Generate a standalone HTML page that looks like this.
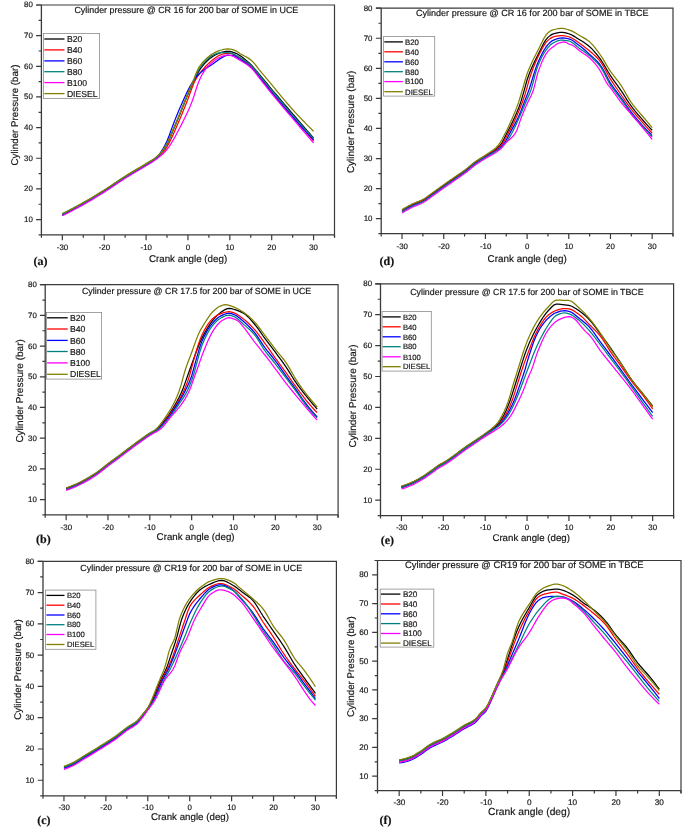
<!DOCTYPE html>
<html><head><meta charset="utf-8"><title>Cylinder pressure</title>
<style>
html,body{margin:0;padding:0;background:#fff;}
body{width:685px;height:835px;overflow:hidden;font-family:"Liberation Sans",sans-serif;}
svg{display:block;will-change:transform;}
svg text{font-family:"Liberation Sans",sans-serif;fill:#161616;stroke:#161616;stroke-width:0.18px;text-rendering:geometricPrecision;}
svg text.pl{font-family:"Liberation Serif",serif;font-weight:bold;fill:#111;}
</style></head><body>
<svg width="685" height="835" viewBox="0 0 685 835">
<rect width="685" height="835" fill="#fff"/>
<g id="pa">
<path d="M62.34 214.06 L64.43 213.02 L66.52 211.97 L68.62 210.9 L70.71 209.82 L72.8 208.72 L74.9 207.61 L76.99 206.48 L79.08 205.34 L81.18 204.19 L83.27 203.02 L85.37 201.84 L87.46 200.63 L89.55 199.41 L91.65 198.17 L93.74 196.91 L95.83 195.64 L97.93 194.36 L100.02 193.07 L102.11 191.76 L104.21 190.45 L106.3 189.12 L108.39 187.76 L110.49 186.37 L112.58 184.97 L114.68 183.56 L116.77 182.15 L118.86 180.74 L120.96 179.36 L123.05 177.99 L125.14 176.66 L127.24 175.36 L129.33 174.08 L131.42 172.83 L133.52 171.59 L135.61 170.35 L137.7 169.12 L139.8 167.89 L141.89 166.64 L143.99 165.38 L146.08 164.09 L148.17 162.83 L150.27 161.61 L152.36 160.33 L154.45 158.91 L156.55 157.28 L158.64 155.37 L160.73 153.17 L162.83 150.62 L164.92 147.53 L167.01 143.9 L169.11 139.8 L171.2 134.8 L173.3 129.54 L175.39 124.64 L177.48 119.82 L179.58 114.84 L181.67 109.6 L183.76 104.27 L185.86 99.12 L187.95 94.06 L190.04 89.09 L192.14 84.3 L194.23 79.79 L196.32 75.57 L198.42 71.82 L200.51 68.63 L202.61 65.81 L204.7 63.41 L206.79 61.26 L208.89 59.32 L210.98 57.62 L213.07 56.19 L215.17 54.98 L217.26 53.92 L219.35 53.08 L221.45 52.46 L223.54 51.88 L225.63 51.46 L227.73 51.29 L229.82 51.47 L231.92 51.93 L234.01 52.55 L236.1 53.32 L238.2 54.5 L240.29 55.85 L242.38 57.3 L244.48 58.9 L246.57 60.64 L248.66 62.5 L250.76 64.47 L252.85 66.64 L254.94 69.04 L257.04 71.59 L259.13 74.19 L261.23 76.73 L263.32 79.23 L265.41 81.75 L267.51 84.27 L269.6 86.8 L271.69 89.3 L273.79 91.78 L275.88 94.25 L277.97 96.71 L280.07 99.17 L282.16 101.62 L284.25 104.06 L286.35 106.51 L288.44 108.95 L290.54 111.38 L292.63 113.82 L294.72 116.25 L296.82 118.69 L298.91 121.12 L301 123.54 L303.1 125.97 L305.19 128.39 L307.28 130.8 L309.38 133.22 L311.47 135.63 L313.56 138.04" fill="none" stroke="#000000" stroke-width="1.25" stroke-linejoin="round" stroke-linecap="butt"/>
<path d="M62.34 214.67 L64.43 213.63 L66.52 212.58 L68.62 211.52 L70.71 210.43 L72.8 209.34 L74.9 208.22 L76.99 207.1 L79.08 205.96 L81.18 204.8 L83.27 203.63 L85.37 202.45 L87.46 201.24 L89.55 200.02 L91.65 198.78 L93.74 197.52 L95.83 196.26 L97.93 194.97 L100.02 193.68 L102.11 192.38 L104.21 191.07 L106.3 189.73 L108.39 188.37 L110.49 186.98 L112.58 185.58 L114.68 184.17 L116.77 182.76 L118.86 181.36 L120.96 179.97 L123.05 178.6 L125.14 177.27 L127.24 175.97 L129.33 174.7 L131.42 173.44 L133.52 172.2 L135.61 170.97 L137.7 169.73 L139.8 168.5 L141.89 167.25 L143.99 165.99 L146.08 164.7 L148.17 163.43 L150.27 162.17 L152.36 160.87 L154.45 159.47 L156.55 157.95 L158.64 156.36 L160.73 154.62 L162.83 152.58 L164.92 150.07 L167.01 146.72 L169.11 142.86 L171.2 138.76 L173.3 134.19 L175.39 129.41 L177.48 124.61 L179.58 119.68 L181.67 114.64 L183.76 109.48 L185.86 104.23 L187.95 98.94 L190.04 93.22 L192.14 87.46 L194.23 82.31 L196.32 78.35 L198.42 75.14 L200.51 72.37 L202.61 69.86 L204.7 67.48 L206.79 65.25 L208.89 63.17 L210.98 61.27 L213.07 59.56 L215.17 57.96 L217.26 56.48 L219.35 55.31 L221.45 54.52 L223.54 53.83 L225.63 53.32 L227.73 53.13 L229.82 53.32 L231.92 53.74 L234.01 54.47 L236.1 55.62 L238.2 56.98 L240.29 58.34 L242.38 59.62 L244.48 60.95 L246.57 62.37 L248.66 63.94 L250.76 65.69 L252.85 67.81 L254.94 70.32 L257.04 73.06 L259.13 75.86 L261.23 78.57 L263.32 81.2 L265.41 83.85 L267.51 86.51 L269.6 89.15 L271.69 91.75 L273.79 94.3 L275.88 96.83 L277.97 99.34 L280.07 101.83 L282.16 104.31 L284.25 106.77 L286.35 109.23 L288.44 111.68 L290.54 114.13 L292.63 116.58 L294.72 119.03 L296.82 121.47 L298.91 123.91 L301 126.34 L303.1 128.76 L305.19 131.18 L307.28 133.59 L309.38 136 L311.47 138.4 L313.56 140.79" fill="none" stroke="#ff0000" stroke-width="1.25" stroke-linejoin="round" stroke-linecap="butt"/>
<path d="M62.34 215.13 L64.43 214.09 L66.52 213.04 L68.62 211.98 L70.71 210.89 L72.8 209.8 L74.9 208.68 L76.99 207.56 L79.08 206.42 L81.18 205.26 L83.27 204.09 L85.37 202.91 L87.46 201.7 L89.55 200.48 L91.65 199.24 L93.74 197.98 L95.83 196.72 L97.93 195.43 L100.02 194.14 L102.11 192.84 L104.21 191.53 L106.3 190.19 L108.39 188.83 L110.49 187.44 L112.58 186.04 L114.68 184.63 L116.77 183.22 L118.86 181.82 L120.96 180.43 L123.05 179.06 L125.14 177.73 L127.24 176.43 L129.33 175.16 L131.42 173.9 L133.52 172.66 L135.61 171.43 L137.7 170.19 L139.8 168.96 L141.89 167.71 L143.99 166.45 L146.08 165.16 L148.17 163.94 L150.27 162.79 L152.36 161.55 L154.45 160.08 L156.55 158.2 L158.64 155.52 L160.73 152.35 L162.83 149 L164.92 145.28 L167.01 141.01 L169.11 135.69 L171.2 129.84 L173.3 124.33 L175.39 118.9 L177.48 113.72 L179.58 108.74 L181.67 103.94 L183.76 99.33 L185.86 94.74 L187.95 90.3 L190.04 86.23 L192.14 82.76 L194.23 79.67 L196.32 76.93 L198.42 74.58 L200.51 72.63 L202.61 70.92 L204.7 69.37 L206.79 67.88 L208.89 66.53 L210.98 65.23 L213.07 63.85 L215.17 62.29 L217.26 60.64 L219.35 59.15 L221.45 57.91 L223.54 56.66 L225.63 55.67 L227.73 55.27 L229.82 55.27 L231.92 55.27 L234.01 55.71 L236.1 56.8 L238.2 58.2 L240.29 59.56 L242.38 60.82 L244.48 62.15 L246.57 63.59 L248.66 65.16 L250.76 66.92 L252.85 69.01 L254.94 71.46 L257.04 74.12 L259.13 76.85 L261.23 79.49 L263.32 82.05 L265.41 84.64 L267.51 87.24 L269.6 89.82 L271.69 92.36 L273.79 94.88 L275.88 97.38 L277.97 99.87 L280.07 102.34 L282.16 104.81 L284.25 107.25 L286.35 109.69 L288.44 112.1 L290.54 114.5 L292.63 116.88 L294.72 119.25 L296.82 121.6 L298.91 123.94 L301 126.26 L303.1 128.57 L305.19 130.86 L307.28 133.14 L309.38 135.4 L311.47 137.64 L313.56 139.87" fill="none" stroke="#0000ff" stroke-width="1.25" stroke-linejoin="round" stroke-linecap="butt"/>
<path d="M62.34 214.36 L64.43 213.33 L66.52 212.28 L68.62 211.21 L70.71 210.13 L72.8 209.03 L74.9 207.92 L76.99 206.79 L79.08 205.65 L81.18 204.5 L83.27 203.33 L85.37 202.14 L87.46 200.94 L89.55 199.71 L91.65 198.47 L93.74 197.22 L95.83 195.95 L97.93 194.67 L100.02 193.37 L102.11 192.07 L104.21 190.76 L106.3 189.43 L108.39 188.06 L110.49 186.67 L112.58 185.27 L114.68 183.86 L116.77 182.45 L118.86 181.05 L120.96 179.66 L123.05 178.3 L125.14 176.97 L127.24 175.66 L129.33 174.39 L131.42 173.14 L133.52 171.89 L135.61 170.66 L137.7 169.43 L139.8 168.19 L141.89 166.95 L143.99 165.68 L146.08 164.4 L148.17 163.14 L150.27 161.92 L152.36 160.64 L154.45 159.22 L156.55 157.57 L158.64 155.63 L160.73 153.37 L162.83 150.76 L164.92 147.61 L167.01 143.93 L169.11 139.79 L171.2 134.79 L173.3 129.54 L175.39 124.64 L177.48 119.82 L179.58 114.85 L181.67 109.62 L183.76 104.3 L185.86 99.1 L187.95 93.98 L190.04 88.91 L192.14 83.96 L194.23 79.18 L196.32 74.45 L198.42 70.29 L200.51 67.02 L202.61 64.23 L204.7 61.88 L206.79 59.74 L208.89 57.78 L210.98 56.15 L213.07 54.96 L215.17 54.09 L217.26 53.37 L219.35 52.91 L221.45 52.73 L223.54 52.62 L225.63 52.54 L227.73 52.51 L229.82 52.82 L231.92 53.43 L234.01 54.22 L236.1 55.27 L238.2 56.47 L240.29 57.72 L242.38 58.98 L244.48 60.31 L246.57 61.75 L248.66 63.33 L250.76 65.08 L252.85 67.15 L254.94 69.57 L257.04 72.2 L259.13 74.89 L261.23 77.5 L263.32 80.02 L265.41 82.57 L267.51 85.13 L269.6 87.68 L271.69 90.22 L273.79 92.73 L275.88 95.25 L277.97 97.75 L280.07 100.26 L282.16 102.75 L284.25 105.24 L286.35 107.71 L288.44 110.17 L290.54 112.62 L292.63 115.05 L294.72 117.46 L296.82 119.86 L298.91 122.25 L301 124.63 L303.1 127 L305.19 129.35 L307.28 131.7 L309.38 134.03 L311.47 136.34 L313.56 138.65" fill="none" stroke="#008080" stroke-width="1.25" stroke-linejoin="round" stroke-linecap="butt"/>
<path d="M62.34 215.74 L64.43 214.71 L66.52 213.66 L68.62 212.59 L70.71 211.51 L72.8 210.41 L74.9 209.3 L76.99 208.17 L79.08 207.03 L81.18 205.87 L83.27 204.71 L85.37 203.52 L87.46 202.32 L89.55 201.09 L91.65 199.85 L93.74 198.6 L95.83 197.33 L97.93 196.05 L100.02 194.75 L102.11 193.45 L104.21 192.14 L106.3 190.81 L108.39 189.44 L110.49 188.05 L112.58 186.65 L114.68 185.24 L116.77 183.83 L118.86 182.43 L120.96 181.04 L123.05 179.68 L125.14 178.34 L127.24 177.04 L129.33 175.77 L131.42 174.51 L133.52 173.27 L135.61 172.04 L137.7 170.81 L139.8 169.57 L141.89 168.32 L143.99 167.06 L146.08 165.78 L148.17 164.5 L150.27 163.23 L152.36 161.92 L154.45 160.54 L156.55 159.03 L158.64 157.47 L160.73 155.8 L162.83 153.97 L164.92 151.91 L167.01 149.48 L169.11 146.56 L171.2 143.32 L173.3 139.92 L175.39 136.2 L177.48 132.22 L179.58 128.2 L181.67 124.16 L183.76 120.01 L185.86 115.66 L187.95 111.14 L190.04 106.42 L192.14 101.31 L194.23 95.28 L196.32 88.51 L198.42 82.55 L200.51 77.76 L202.61 73.59 L204.7 70.33 L206.79 67.69 L208.89 65.43 L210.98 63.46 L213.07 61.71 L215.17 60.1 L217.26 58.65 L219.35 57.48 L221.45 56.61 L223.54 55.81 L225.63 55.2 L227.73 54.96 L229.82 55.27 L231.92 55.88 L234.01 56.72 L236.1 57.87 L238.2 59.17 L240.29 60.48 L242.38 61.73 L244.48 63 L246.57 64.34 L248.66 65.84 L250.76 67.53 L252.85 69.62 L254.94 72.13 L257.04 74.87 L259.13 77.69 L261.23 80.41 L263.32 83.03 L265.41 85.69 L267.51 88.35 L269.6 90.99 L271.69 93.59 L273.79 96.14 L275.88 98.66 L277.97 101.17 L280.07 103.65 L282.16 106.13 L284.25 108.59 L286.35 111.04 L288.44 113.5 L290.54 115.95 L292.63 118.42 L294.72 120.88 L296.82 123.35 L298.91 125.81 L301 128.26 L303.1 130.72 L305.19 133.17 L307.28 135.62 L309.38 138.06 L311.47 140.5 L313.56 142.94" fill="none" stroke="#ff00ff" stroke-width="1.25" stroke-linejoin="round" stroke-linecap="butt"/>
<path d="M62.34 213.6 L64.43 212.56 L66.52 211.51 L68.62 210.44 L70.71 209.36 L72.8 208.26 L74.9 207.15 L76.99 206.02 L79.08 204.88 L81.18 203.73 L83.27 202.56 L85.37 201.38 L87.46 200.17 L89.55 198.95 L91.65 197.71 L93.74 196.45 L95.83 195.18 L97.93 193.9 L100.02 192.61 L102.11 191.3 L104.21 189.99 L106.3 188.66 L108.39 187.3 L110.49 185.91 L112.58 184.51 L114.68 183.1 L116.77 181.69 L118.86 180.28 L120.96 178.9 L123.05 177.53 L125.14 176.2 L127.24 174.9 L129.33 173.62 L131.42 172.37 L133.52 171.13 L135.61 169.89 L137.7 168.66 L139.8 167.43 L141.89 166.18 L143.99 164.92 L146.08 163.63 L148.17 162.38 L150.27 161.15 L152.36 159.87 L154.45 158.45 L156.55 156.81 L158.64 154.9 L160.73 152.67 L162.83 150.08 L164.92 146.9 L167.01 143.2 L169.11 139.06 L171.2 134.14 L173.3 129.03 L175.39 124.17 L177.48 119.33 L179.58 114.33 L181.67 109.07 L183.76 103.71 L185.86 98.47 L187.95 93.34 L190.04 88.26 L192.14 83.22 L194.23 78.15 L196.32 72.7 L198.42 68.15 L200.51 65.05 L202.61 62.55 L204.7 60.36 L206.79 58.31 L208.89 56.43 L210.98 54.78 L213.07 53.43 L215.17 52.33 L217.26 51.38 L219.35 50.62 L221.45 50.01 L223.54 49.44 L225.63 49.01 L227.73 48.83 L229.82 49.01 L231.92 49.47 L234.01 50.09 L236.1 50.94 L238.2 52.31 L240.29 53.68 L242.38 54.85 L244.48 55.95 L246.57 57.09 L248.66 58.37 L250.76 59.87 L252.85 61.8 L254.94 64.18 L257.04 66.82 L259.13 69.53 L261.23 72.13 L263.32 74.63 L265.41 77.14 L267.51 79.67 L269.6 82.19 L271.69 84.7 L273.79 87.21 L275.88 89.74 L277.97 92.28 L280.07 94.81 L282.16 97.34 L284.25 99.85 L286.35 102.33 L288.44 104.78 L290.54 107.18 L292.63 109.53 L294.72 111.83 L296.82 114.11 L298.91 116.36 L301 118.59 L303.1 120.78 L305.19 122.94 L307.28 125.08 L309.38 127.18 L311.47 129.25 L313.56 131.29" fill="none" stroke="#808000" stroke-width="1.25" stroke-linejoin="round" stroke-linecap="butt"/>
<path d="M36.1 5 H334.5 V237.5" fill="none" stroke="#3a3a3a" stroke-width="1.2"/>
<path d="M41.4 5 V234.9 M38.6 234.9 H334.5" fill="none" stroke="#3a3a3a" stroke-width="1.3"/>
<path d="M36.1 219.57 H41.4 M38.6 204.25 H41.4 M36.1 188.92 H41.4 M38.6 173.59 H41.4 M36.1 158.27 H41.4 M38.6 142.94 H41.4 M36.1 127.61 H41.4 M38.6 112.29 H41.4 M36.1 96.96 H41.4 M38.6 81.63 H41.4 M36.1 66.31 H41.4 M38.6 50.98 H41.4 M36.1 35.65 H41.4 M38.6 20.33 H41.4 M36.1 5 H41.4 M41.4 234.9 V237.7 M62.34 234.9 V240.2 M83.27 234.9 V237.7 M104.21 234.9 V240.2 M125.14 234.9 V237.7 M146.08 234.9 V240.2 M167.01 234.9 V237.7 M187.95 234.9 V240.2 M208.89 234.9 V237.7 M229.82 234.9 V240.2 M250.76 234.9 V237.7 M271.69 234.9 V240.2 M292.63 234.9 V237.7 M313.56 234.9 V240.2 M334.5 234.9 V237.7" fill="none" stroke="#3a3a3a" stroke-width="1.2"/>
<text x="32.8" y="222.05" font-size="7.9" text-anchor="end">10</text>
<text x="32.8" y="191.4" font-size="7.9" text-anchor="end">20</text>
<text x="32.8" y="160.74" font-size="7.9" text-anchor="end">30</text>
<text x="32.8" y="130.09" font-size="7.9" text-anchor="end">40</text>
<text x="32.8" y="99.44" font-size="7.9" text-anchor="end">50</text>
<text x="32.8" y="68.78" font-size="7.9" text-anchor="end">60</text>
<text x="32.8" y="38.13" font-size="7.9" text-anchor="end">70</text>
<text x="32.8" y="7.48" font-size="7.9" text-anchor="end">80</text>
<text x="62.54" y="249.7" font-size="7.9" text-anchor="middle">-30</text>
<text x="104.41" y="249.7" font-size="7.9" text-anchor="middle">-20</text>
<text x="146.28" y="249.7" font-size="7.9" text-anchor="middle">-10</text>
<text x="187.95" y="249.7" font-size="7.9" text-anchor="middle">0</text>
<text x="229.82" y="249.7" font-size="7.9" text-anchor="middle">10</text>
<text x="271.69" y="249.7" font-size="7.9" text-anchor="middle">20</text>
<text x="313.56" y="249.7" font-size="7.9" text-anchor="middle">30</text>
<text x="74.4" y="12.7" font-size="8.91" textLength="223.9" lengthAdjust="spacingAndGlyphs">Cylinder pressure @ CR 16 for 200 bar of SOME in UCE</text>
<text x="148.9" y="261.9" font-size="9.78" textLength="78.3" lengthAdjust="spacingAndGlyphs">Crank angle (deg)</text>
<text transform="translate(17.6 165.5) rotate(-90)" font-size="9.77" textLength="101" lengthAdjust="spacingAndGlyphs">Cylinder Pressure (bar)</text>
<text x="33.6" y="265.1" class="pl" font-size="12">(a)</text>
<rect x="43.4" y="33.4" width="56.2" height="65" fill="#fff" stroke="#8c8c8c" stroke-width="0.8"/>
<path d="M44.3 39 H64.5" stroke="#000000" stroke-width="1.3" fill="none"/>
<text x="66.9" y="42.09" font-size="8.63" textLength="15.36" lengthAdjust="spacingAndGlyphs">B20</text>
<path d="M44.3 49.9 H64.5" stroke="#ff0000" stroke-width="1.3" fill="none"/>
<text x="66.9" y="52.99" font-size="8.63" textLength="15.36" lengthAdjust="spacingAndGlyphs">B40</text>
<path d="M44.3 60.9 H64.5" stroke="#0000ff" stroke-width="1.3" fill="none"/>
<text x="66.9" y="63.99" font-size="8.63" textLength="15.36" lengthAdjust="spacingAndGlyphs">B60</text>
<path d="M44.3 71.7 H64.5" stroke="#008080" stroke-width="1.3" fill="none"/>
<text x="66.9" y="74.79" font-size="8.63" textLength="15.36" lengthAdjust="spacingAndGlyphs">B80</text>
<path d="M44.3 82.6 H64.5" stroke="#ff00ff" stroke-width="1.3" fill="none"/>
<text x="66.9" y="85.69" font-size="8.63" textLength="20.15" lengthAdjust="spacingAndGlyphs">B100</text>
<path d="M44.3 93.6 H64.5" stroke="#808000" stroke-width="1.3" fill="none"/>
<text x="66.9" y="96.69" font-size="8.63" textLength="30.7" lengthAdjust="spacingAndGlyphs">DIESEL</text>
</g>
<g id="pd">
<path d="M402.04 210.25 L404.13 209.01 L406.21 207.81 L408.3 206.67 L410.38 205.57 L412.46 204.54 L414.55 203.6 L416.63 202.75 L418.72 201.93 L420.8 201.04 L422.89 200.03 L424.97 198.8 L427.05 197.4 L429.14 195.89 L431.22 194.34 L433.31 192.81 L435.39 191.32 L437.48 189.81 L439.56 188.29 L441.64 186.78 L443.73 185.29 L445.81 183.83 L447.9 182.38 L449.98 180.94 L452.07 179.5 L454.15 178.06 L456.23 176.63 L458.32 175.23 L460.4 173.81 L462.49 172.37 L464.57 170.86 L466.66 169.24 L468.74 167.51 L470.82 165.75 L472.91 164.04 L474.99 162.44 L477.08 161.01 L479.16 159.7 L481.25 158.44 L483.33 157.17 L485.41 155.83 L487.5 154.5 L489.58 153.25 L491.67 152.01 L493.75 150.68 L495.84 149.2 L497.92 147.48 L500 145.44 L502.09 142.56 L504.17 138.55 L506.26 134.22 L508.34 130.2 L510.43 126.19 L512.51 122.04 L514.59 117.59 L516.68 112.82 L518.76 107.68 L520.85 101.91 L522.93 94.93 L525.02 87.34 L527.1 79.76 L529.18 73.97 L531.27 68.85 L533.35 64.21 L535.44 59.88 L537.52 55.71 L539.61 51.44 L541.69 47.17 L543.77 43.19 L545.86 39.82 L547.94 37.36 L550.03 35.64 L552.11 34.39 L554.2 33.65 L556.28 33.05 L558.36 32.58 L560.45 32.3 L562.53 32.29 L564.62 32.6 L566.7 33.13 L568.79 33.76 L570.87 34.54 L572.95 35.6 L575.04 36.84 L577.12 38.16 L579.21 39.47 L581.29 40.75 L583.38 42.06 L585.46 43.46 L587.54 44.98 L589.63 46.69 L591.71 48.64 L593.8 50.87 L595.88 53.32 L597.97 55.95 L600.05 58.71 L602.13 61.76 L604.22 65.15 L606.3 68.71 L608.39 72.24 L610.47 75.55 L612.56 78.6 L614.64 81.53 L616.72 84.4 L618.81 87.29 L620.89 90.28 L622.98 93.45 L625.06 96.74 L627.15 100.05 L629.23 103.25 L631.31 106.22 L633.4 108.95 L635.48 111.54 L637.57 114.03 L639.65 116.45 L641.74 118.85 L643.82 121.22 L645.9 123.56 L647.99 125.84 L650.07 128.08 L652.16 130.27" fill="none" stroke="#000000" stroke-width="1.25" stroke-linejoin="round" stroke-linecap="butt"/>
<path d="M402.04 210.85 L404.13 209.61 L406.21 208.41 L408.3 207.27 L410.38 206.17 L412.46 205.14 L414.55 204.2 L416.63 203.36 L418.72 202.53 L420.8 201.64 L422.89 200.63 L424.97 199.41 L427.05 198 L429.14 196.49 L431.22 194.94 L433.31 193.41 L435.39 191.92 L437.48 190.41 L439.56 188.9 L441.64 187.38 L443.73 185.89 L445.81 184.43 L447.9 182.98 L449.98 181.54 L452.07 180.1 L454.15 178.67 L456.23 177.24 L458.32 175.83 L460.4 174.42 L462.49 172.97 L464.57 171.46 L466.66 169.84 L468.74 168.11 L470.82 166.35 L472.91 164.64 L474.99 163.04 L477.08 161.61 L479.16 160.29 L481.25 159.03 L483.33 157.76 L485.41 156.43 L487.5 155.1 L489.58 153.85 L491.67 152.62 L493.75 151.33 L495.84 149.92 L497.92 148.32 L500 146.47 L502.09 144.24 L504.17 141 L506.26 137.08 L508.34 133.06 L510.43 129.16 L512.51 125.1 L514.59 120.83 L516.68 116.27 L518.76 111.35 L520.85 106.06 L522.93 100.44 L525.02 94.4 L527.1 87.35 L529.18 79.63 L531.27 73.31 L533.35 67.56 L535.44 62.4 L537.52 57.81 L539.61 53.54 L541.69 49.48 L543.77 45.8 L545.86 42.7 L547.94 40.37 L550.03 38.63 L552.11 37.37 L554.2 36.72 L556.28 36.21 L558.36 35.82 L560.45 35.6 L562.53 35.58 L564.62 35.82 L566.7 36.25 L568.79 36.76 L570.87 37.54 L572.95 38.69 L575.04 40.1 L577.12 41.6 L579.21 43.08 L581.29 44.52 L583.38 46.04 L585.46 47.64 L587.54 49.3 L589.63 51.05 L591.71 52.82 L593.8 54.63 L595.88 56.56 L597.97 58.7 L600.05 61.12 L602.13 64.12 L604.22 67.74 L606.3 71.66 L608.39 75.57 L610.47 79.16 L612.56 82.39 L614.64 85.5 L616.72 88.52 L618.81 91.5 L620.89 94.49 L622.98 97.52 L625.06 100.55 L627.15 103.55 L629.23 106.45 L631.31 109.22 L633.4 111.84 L635.48 114.34 L637.57 116.77 L639.65 119.16 L641.74 121.55 L643.82 123.94 L645.9 126.31 L647.99 128.66 L650.07 130.98 L652.16 133.28" fill="none" stroke="#ff0000" stroke-width="1.25" stroke-linejoin="round" stroke-linecap="butt"/>
<path d="M402.04 211.45 L404.13 210.21 L406.21 209.01 L408.3 207.87 L410.38 206.78 L412.46 205.74 L414.55 204.8 L416.63 203.96 L418.72 203.13 L420.8 202.25 L422.89 201.23 L424.97 200.01 L427.05 198.61 L429.14 197.09 L431.22 195.54 L433.31 194.01 L435.39 192.52 L437.48 191.01 L439.56 189.5 L441.64 187.99 L443.73 186.5 L445.81 185.03 L447.9 183.58 L449.98 182.14 L452.07 180.71 L454.15 179.27 L456.23 177.84 L458.32 176.43 L460.4 175.02 L462.49 173.57 L464.57 172.06 L466.66 170.44 L468.74 168.71 L470.82 166.95 L472.91 165.24 L474.99 163.64 L477.08 162.21 L479.16 160.89 L481.25 159.62 L483.33 158.35 L485.41 157.03 L487.5 155.73 L489.58 154.53 L491.67 153.36 L493.75 152.16 L495.84 150.87 L497.92 149.45 L500 147.82 L502.09 145.92 L504.17 143.5 L506.26 140 L508.34 135.98 L510.43 132.08 L512.51 128.38 L514.59 124.61 L516.68 120.61 L518.76 116.2 L520.85 111.15 L522.93 105.74 L525.02 100.34 L527.1 94.96 L529.18 89.27 L531.27 82.76 L533.35 75.79 L535.44 69.12 L537.52 63.52 L539.61 58.85 L541.69 54.5 L543.77 50.6 L545.86 47.25 L547.94 44.58 L550.03 42.44 L552.11 40.81 L554.2 39.84 L556.28 39.04 L558.36 38.41 L560.45 38.03 L562.53 37.98 L564.62 38.16 L566.7 38.47 L568.79 38.87 L570.87 39.58 L572.95 40.77 L575.04 42.27 L577.12 43.89 L579.21 45.48 L581.29 47.07 L583.38 48.78 L585.46 50.58 L587.54 52.45 L589.63 54.35 L591.71 56.23 L593.8 58.11 L595.88 60.08 L597.97 62.26 L600.05 64.73 L602.13 67.81 L604.22 71.54 L606.3 75.56 L608.39 79.51 L610.47 83.07 L612.56 86.17 L614.64 89.07 L616.72 91.87 L618.81 94.65 L620.89 97.5 L622.98 100.47 L625.06 103.49 L627.15 106.51 L629.23 109.45 L631.31 112.23 L633.4 114.86 L635.48 117.38 L637.57 119.82 L639.65 122.21 L641.74 124.56 L643.82 126.88 L645.9 129.15 L647.99 131.37 L650.07 133.55 L652.16 135.68" fill="none" stroke="#0000ff" stroke-width="1.25" stroke-linejoin="round" stroke-linecap="butt"/>
<path d="M402.04 211.9 L404.13 210.66 L406.21 209.47 L408.3 208.32 L410.38 207.23 L412.46 206.19 L414.55 205.25 L416.63 204.41 L418.72 203.58 L420.8 202.7 L422.89 201.68 L424.97 200.46 L427.05 199.06 L429.14 197.54 L431.22 195.99 L433.31 194.46 L435.39 192.97 L437.48 191.46 L439.56 189.95 L441.64 188.44 L443.73 186.95 L445.81 185.48 L447.9 184.03 L449.98 182.59 L452.07 181.16 L454.15 179.72 L456.23 178.29 L458.32 176.88 L460.4 175.47 L462.49 174.02 L464.57 172.51 L466.66 170.89 L468.74 169.16 L470.82 167.4 L472.91 165.69 L474.99 164.09 L477.08 162.66 L479.16 161.33 L481.25 160.06 L483.33 158.79 L485.41 157.48 L487.5 156.19 L489.58 154.97 L491.67 153.78 L493.75 152.59 L495.84 151.33 L497.92 149.98 L500 148.47 L502.09 146.77 L504.17 144.83 L506.26 142.31 L508.34 139.19 L510.43 135.69 L512.51 131.99 L514.59 127.82 L516.68 123.23 L518.76 118.52 L520.85 113.82 L522.93 109 L525.02 104.12 L527.1 99.32 L529.18 94.6 L531.27 89.12 L533.35 81.58 L535.44 73.26 L537.52 66.53 L539.61 61.65 L541.69 57.31 L543.77 53.52 L545.86 50.28 L547.94 47.59 L550.03 45.33 L552.11 43.58 L554.2 42.43 L556.28 41.44 L558.36 40.64 L560.45 40.16 L562.53 40.09 L564.62 40.26 L566.7 40.57 L568.79 40.97 L570.87 41.76 L572.95 43.11 L575.04 44.78 L577.12 46.56 L579.21 48.19 L581.29 49.66 L583.38 51.11 L585.46 52.6 L587.54 54.17 L589.63 55.86 L591.71 57.63 L593.8 59.49 L595.88 61.49 L597.97 63.72 L600.05 66.23 L602.13 69.4 L604.22 73.29 L606.3 77.49 L608.39 81.58 L610.47 85.17 L612.56 88.2 L614.64 90.97 L616.72 93.61 L618.81 96.25 L620.89 99 L622.98 101.94 L625.06 104.99 L627.15 108.04 L629.23 110.99 L631.31 113.73 L633.4 116.25 L635.48 118.63 L637.57 120.92 L639.65 123.18 L641.74 125.46 L643.82 127.77 L645.9 130.07 L647.99 132.35 L650.07 134.62 L652.16 136.89" fill="none" stroke="#008080" stroke-width="1.25" stroke-linejoin="round" stroke-linecap="butt"/>
<path d="M402.04 212.95 L404.13 211.71 L406.21 210.52 L408.3 209.37 L410.38 208.28 L412.46 207.24 L414.55 206.3 L416.63 205.46 L418.72 204.63 L420.8 203.75 L422.89 202.73 L424.97 201.51 L427.05 200.11 L429.14 198.6 L431.22 197.04 L433.31 195.51 L435.39 194.02 L437.48 192.52 L439.56 191 L441.64 189.49 L443.73 188 L445.81 186.53 L447.9 185.08 L449.98 183.64 L452.07 182.21 L454.15 180.77 L456.23 179.34 L458.32 177.93 L460.4 176.52 L462.49 175.07 L464.57 173.57 L466.66 171.94 L468.74 170.21 L470.82 168.46 L472.91 166.74 L474.99 165.15 L477.08 163.71 L479.16 162.37 L481.25 161.08 L483.33 159.82 L485.41 158.53 L487.5 157.28 L489.58 156.11 L491.67 154.97 L493.75 153.79 L495.84 152.51 L497.92 151.09 L500 149.46 L502.09 147.32 L504.17 144.68 L506.26 142.33 L508.34 140.43 L510.43 138.68 L512.51 136.75 L514.59 134.32 L516.68 130.77 L518.76 124.87 L520.85 118.59 L522.93 113.41 L525.02 108.55 L527.1 103.84 L529.18 99.38 L531.27 95.29 L533.35 90.33 L535.44 82.19 L537.52 73.75 L539.61 67.86 L541.69 62.55 L543.77 57.92 L545.86 54.1 L547.94 51.2 L550.03 49.17 L552.11 47.6 L554.2 46.01 L556.28 44.41 L558.36 43.23 L560.45 42.57 L562.53 42.07 L564.62 41.87 L566.7 42.71 L568.79 43.98 L570.87 44.7 L572.95 45.48 L575.04 46.91 L577.12 48.79 L579.21 50.59 L581.29 52.08 L583.38 53.44 L585.46 54.8 L587.54 56.26 L589.63 57.96 L591.71 59.95 L593.8 62.21 L595.88 64.71 L597.97 67.46 L600.05 70.44 L602.13 74.1 L604.22 78.34 L606.3 82.33 L608.39 85.34 L610.47 87.88 L612.56 90.66 L614.64 93.54 L616.72 96.44 L618.81 99.29 L620.89 102.01 L622.98 104.58 L625.06 107.06 L627.15 109.49 L629.23 111.9 L631.31 114.34 L633.4 116.8 L635.48 119.25 L637.57 121.71 L639.65 124.18 L641.74 126.66 L643.82 129.16 L645.9 131.68 L647.99 134.2 L650.07 136.74 L652.16 139.29" fill="none" stroke="#ff00ff" stroke-width="1.25" stroke-linejoin="round" stroke-linecap="butt"/>
<path d="M402.04 209.65 L404.13 208.41 L406.21 207.21 L408.3 206.06 L410.38 204.97 L412.46 203.93 L414.55 203 L416.63 202.15 L418.72 201.33 L420.8 200.44 L422.89 199.42 L424.97 198.2 L427.05 196.8 L429.14 195.29 L431.22 193.73 L433.31 192.2 L435.39 190.72 L437.48 189.21 L439.56 187.69 L441.64 186.18 L443.73 184.69 L445.81 183.23 L447.9 181.78 L449.98 180.34 L452.07 178.9 L454.15 177.46 L456.23 176.03 L458.32 174.63 L460.4 173.21 L462.49 171.77 L464.57 170.26 L466.66 168.63 L468.74 166.91 L470.82 165.15 L472.91 163.43 L474.99 161.84 L477.08 160.42 L479.16 159.12 L481.25 157.87 L483.33 156.6 L485.41 155.23 L487.5 153.81 L489.58 152.43 L491.67 150.99 L493.75 149.41 L495.84 147.62 L497.92 145.54 L500 142.83 L502.09 139.26 L504.17 135.25 L506.26 131.21 L508.34 126.95 L510.43 122.42 L512.51 117.69 L514.59 112.81 L516.68 107.64 L518.76 101.91 L520.85 95.04 L522.93 87.82 L525.02 80.36 L527.1 73.75 L529.18 68.43 L531.27 63.68 L533.35 59.33 L535.44 55.22 L537.52 51.2 L539.61 46.98 L541.69 42.67 L543.77 38.64 L545.86 35.25 L547.94 32.85 L550.03 31.27 L552.11 30.14 L554.2 29.51 L556.28 29 L558.36 28.61 L560.45 28.38 L562.53 28.38 L564.62 28.69 L566.7 29.23 L568.79 29.85 L570.87 30.61 L572.95 31.62 L575.04 32.79 L577.12 34.03 L579.21 35.26 L581.29 36.43 L583.38 37.61 L585.46 38.87 L587.54 40.27 L589.63 41.87 L591.71 43.84 L593.8 46.18 L595.88 48.81 L597.97 51.62 L600.05 54.5 L602.13 57.62 L604.22 61.05 L606.3 64.61 L608.39 68.11 L610.47 71.34 L612.56 74.23 L614.64 76.91 L616.72 79.54 L618.81 82.24 L620.89 85.17 L622.98 88.49 L625.06 92.12 L627.15 95.84 L629.23 99.41 L631.31 102.61 L633.4 105.4 L635.48 107.97 L637.57 110.4 L639.65 112.8 L641.74 115.24 L643.82 117.73 L645.9 120.2 L647.99 122.67 L650.07 125.12 L652.16 127.56" fill="none" stroke="#808000" stroke-width="1.25" stroke-linejoin="round" stroke-linecap="butt"/>
<path d="M375.9 8.2 H673 V236.3" fill="none" stroke="#3a3a3a" stroke-width="1.2"/>
<path d="M381.2 8.2 V233.7 M378.4 233.7 H673" fill="none" stroke="#3a3a3a" stroke-width="1.3"/>
<path d="M375.9 218.67 H381.2 M378.4 203.63 H381.2 M375.9 188.6 H381.2 M378.4 173.57 H381.2 M375.9 158.53 H381.2 M378.4 143.5 H381.2 M375.9 128.47 H381.2 M378.4 113.43 H381.2 M375.9 98.4 H381.2 M378.4 83.37 H381.2 M375.9 68.33 H381.2 M378.4 53.3 H381.2 M375.9 38.27 H381.2 M378.4 23.23 H381.2 M375.9 8.2 H381.2 M381.2 233.7 V236.5 M402.04 233.7 V239 M422.89 233.7 V236.5 M443.73 233.7 V239 M464.57 233.7 V236.5 M485.41 233.7 V239 M506.26 233.7 V236.5 M527.1 233.7 V239 M547.94 233.7 V236.5 M568.79 233.7 V239 M589.63 233.7 V236.5 M610.47 233.7 V239 M631.31 233.7 V236.5 M652.16 233.7 V239 M673 233.7 V236.5" fill="none" stroke="#3a3a3a" stroke-width="1.2"/>
<text x="372.5" y="221.14" font-size="7.9" text-anchor="end">10</text>
<text x="372.5" y="191.08" font-size="7.9" text-anchor="end">20</text>
<text x="372.5" y="161.01" font-size="7.9" text-anchor="end">30</text>
<text x="372.5" y="130.94" font-size="7.9" text-anchor="end">40</text>
<text x="372.5" y="100.88" font-size="7.9" text-anchor="end">50</text>
<text x="372.5" y="70.81" font-size="7.9" text-anchor="end">60</text>
<text x="372.5" y="40.74" font-size="7.9" text-anchor="end">70</text>
<text x="372.5" y="10.68" font-size="7.9" text-anchor="end">80</text>
<text x="402.24" y="248.5" font-size="7.9" text-anchor="middle">-30</text>
<text x="443.93" y="248.5" font-size="7.9" text-anchor="middle">-20</text>
<text x="485.61" y="248.5" font-size="7.9" text-anchor="middle">-10</text>
<text x="527.1" y="248.5" font-size="7.9" text-anchor="middle">0</text>
<text x="568.79" y="248.5" font-size="7.9" text-anchor="middle">10</text>
<text x="610.47" y="248.5" font-size="7.9" text-anchor="middle">20</text>
<text x="652.16" y="248.5" font-size="7.9" text-anchor="middle">30</text>
<text x="415.9" y="16.3" font-size="9.06" textLength="232.7" lengthAdjust="spacingAndGlyphs">Cylinder pressure @ CR 16 for 200 bar of SOME in TBCE</text>
<text x="487.5" y="262.2" font-size="9.9" textLength="79.2" lengthAdjust="spacingAndGlyphs">Crank angle (deg)</text>
<text transform="translate(353.8 173.1) rotate(-90)" font-size="9.91" textLength="102.4" lengthAdjust="spacingAndGlyphs">Cylinder Pressure (bar)</text>
<text x="379.5" y="265.4" class="pl" font-size="12">(d)</text>
<rect x="383.6" y="36.5" width="51.1" height="59.6" fill="#fff" stroke="#8c8c8c" stroke-width="0.8"/>
<path d="M384.3 41.9 H402.9" stroke="#000000" stroke-width="1.3" fill="none"/>
<text x="405" y="44.7" font-size="7.82" textLength="13.9" lengthAdjust="spacingAndGlyphs">B20</text>
<path d="M384.3 51.8 H402.9" stroke="#ff0000" stroke-width="1.3" fill="none"/>
<text x="405" y="54.6" font-size="7.82" textLength="13.9" lengthAdjust="spacingAndGlyphs">B40</text>
<path d="M384.3 61.8 H402.9" stroke="#0000ff" stroke-width="1.3" fill="none"/>
<text x="405" y="64.6" font-size="7.82" textLength="13.9" lengthAdjust="spacingAndGlyphs">B60</text>
<path d="M384.3 71.7 H402.9" stroke="#008080" stroke-width="1.3" fill="none"/>
<text x="405" y="74.5" font-size="7.82" textLength="13.9" lengthAdjust="spacingAndGlyphs">B80</text>
<path d="M384.3 81.6 H402.9" stroke="#ff00ff" stroke-width="1.3" fill="none"/>
<text x="405" y="84.4" font-size="7.82" textLength="18.25" lengthAdjust="spacingAndGlyphs">B100</text>
<path d="M384.3 91.7 H402.9" stroke="#808000" stroke-width="1.3" fill="none"/>
<text x="405" y="94.5" font-size="7.82" textLength="27.8" lengthAdjust="spacingAndGlyphs">DIESEL</text>
</g>
<g id="pb">
<path d="M66.12 488.35 L68.21 487.62 L70.31 486.83 L72.4 486 L74.49 485.12 L76.58 484.21 L78.67 483.24 L80.77 482.21 L82.86 481.13 L84.95 480 L87.04 478.84 L89.14 477.62 L91.23 476.35 L93.32 475.03 L95.41 473.65 L97.5 472.22 L99.6 470.71 L101.69 469.09 L103.78 467.41 L105.87 465.73 L107.96 464.1 L110.06 462.54 L112.15 461.01 L114.24 459.5 L116.33 457.98 L118.43 456.43 L120.52 454.86 L122.61 453.25 L124.7 451.64 L126.79 450.03 L128.89 448.45 L130.98 446.89 L133.07 445.34 L135.16 443.81 L137.25 442.29 L139.35 440.78 L141.44 439.25 L143.53 437.72 L145.62 436.21 L147.72 434.76 L149.81 433.41 L151.9 432.26 L153.99 431.19 L156.08 429.88 L158.18 428.1 L160.27 425.89 L162.36 423.38 L164.45 420.68 L166.54 417.91 L168.64 415.02 L170.73 411.89 L172.82 408.56 L174.91 405.03 L177.01 401.33 L179.1 397.34 L181.19 392.95 L183.28 387.89 L185.37 382.12 L187.47 376.17 L189.56 370.31 L191.65 364.5 L193.74 358.8 L195.83 353.07 L197.93 347.51 L200.02 342.35 L202.11 337.8 L204.2 333.75 L206.3 329.98 L208.39 326.52 L210.48 323.39 L212.57 320.61 L214.66 318.1 L216.76 315.82 L218.85 313.89 L220.94 312.35 L223.03 310.88 L225.12 309.57 L227.22 308.65 L229.31 308.34 L231.4 308.67 L233.49 309.25 L235.59 309.86 L237.68 310.59 L239.77 311.43 L241.86 312.42 L243.95 313.55 L246.05 315.03 L248.14 316.94 L250.23 319.15 L252.32 321.55 L254.41 323.99 L256.51 326.59 L258.6 329.45 L260.69 332.47 L262.78 335.49 L264.88 338.41 L266.97 341.2 L269.06 343.95 L271.15 346.69 L273.24 349.43 L275.34 352.23 L277.43 355.04 L279.52 357.87 L281.61 360.73 L283.7 363.65 L285.8 366.65 L287.89 369.82 L289.98 373.15 L292.07 376.51 L294.17 379.8 L296.26 382.92 L298.35 385.85 L300.44 388.68 L302.53 391.43 L304.63 394.11 L306.72 396.73 L308.81 399.3 L310.9 401.82 L312.99 404.28 L315.09 406.67 L317.18 409.01" fill="none" stroke="#000000" stroke-width="1.25" stroke-linejoin="round" stroke-linecap="butt"/>
<path d="M66.12 488.81 L68.21 488.08 L70.31 487.29 L72.4 486.46 L74.49 485.58 L76.58 484.67 L78.67 483.7 L80.77 482.67 L82.86 481.59 L84.95 480.46 L87.04 479.3 L89.14 478.08 L91.23 476.81 L93.32 475.49 L95.41 474.11 L97.5 472.68 L99.6 471.17 L101.69 469.55 L103.78 467.87 L105.87 466.19 L107.96 464.56 L110.06 463 L112.15 461.47 L114.24 459.96 L116.33 458.44 L118.43 456.9 L120.52 455.32 L122.61 453.71 L124.7 452.1 L126.79 450.49 L128.89 448.91 L130.98 447.35 L133.07 445.8 L135.16 444.27 L137.25 442.75 L139.35 441.24 L141.44 439.72 L143.53 438.2 L145.62 436.71 L147.72 435.25 L149.81 433.87 L151.9 432.65 L153.99 431.51 L156.08 430.19 L158.18 428.49 L160.27 426.45 L162.36 424.13 L164.45 421.61 L166.54 418.98 L168.64 416.25 L170.73 413.27 L172.82 410.08 L174.91 406.72 L177.01 403.24 L179.1 399.71 L181.19 396 L183.28 391.92 L185.37 387.29 L187.47 381.93 L189.56 375.63 L191.65 367.57 L193.74 359.87 L195.83 352.48 L197.93 345.66 L200.02 339.65 L202.11 334.73 L204.2 330.62 L206.3 326.92 L208.39 323.67 L210.48 320.94 L212.57 318.77 L214.66 317.02 L216.76 315.53 L218.85 314.37 L220.94 313.56 L223.03 312.86 L225.12 312.26 L227.22 311.85 L229.31 311.71 L231.4 312.03 L233.49 312.63 L235.59 313.47 L237.68 314.68 L239.77 316.15 L241.86 317.75 L243.95 319.38 L246.05 321.08 L248.14 322.94 L250.23 324.94 L252.32 327.09 L254.41 329.36 L256.51 331.84 L258.6 334.57 L260.69 337.46 L262.78 340.41 L264.88 343.32 L266.97 346.23 L269.06 349.18 L271.15 352.15 L273.24 355.12 L275.34 358.06 L277.43 360.96 L279.52 363.83 L281.61 366.71 L283.7 369.58 L285.8 372.48 L287.89 375.42 L289.98 378.4 L292.07 381.38 L294.17 384.33 L296.26 387.22 L298.35 390.07 L300.44 392.92 L302.53 395.71 L304.63 398.43 L306.72 401.03 L308.81 403.52 L310.9 405.94 L312.99 408.27 L315.09 410.53 L317.18 412.69" fill="none" stroke="#ff0000" stroke-width="1.25" stroke-linejoin="round" stroke-linecap="butt"/>
<path d="M66.12 489.27 L68.21 488.54 L70.31 487.75 L72.4 486.92 L74.49 486.04 L76.58 485.13 L78.67 484.16 L80.77 483.13 L82.86 482.05 L84.95 480.92 L87.04 479.76 L89.14 478.54 L91.23 477.27 L93.32 475.95 L95.41 474.57 L97.5 473.14 L99.6 471.63 L101.69 470.01 L103.78 468.33 L105.87 466.65 L107.96 465.02 L110.06 463.46 L112.15 461.93 L114.24 460.42 L116.33 458.9 L118.43 457.36 L120.52 455.78 L122.61 454.17 L124.7 452.56 L126.79 450.95 L128.89 449.37 L130.98 447.81 L133.07 446.26 L135.16 444.73 L137.25 443.21 L139.35 441.7 L141.44 440.19 L143.53 438.68 L145.62 437.2 L147.72 435.74 L149.81 434.33 L151.9 433.05 L153.99 431.84 L156.08 430.5 L158.18 428.86 L160.27 426.94 L162.36 424.79 L164.45 422.45 L166.54 419.97 L168.64 417.38 L170.73 414.55 L172.82 411.46 L174.91 408.2 L177.01 404.88 L179.1 401.55 L181.19 398.18 L183.28 394.57 L185.37 390.59 L187.47 386.33 L189.56 381.57 L191.65 375.99 L193.74 368.54 L195.83 360.89 L197.93 353.33 L200.02 346.46 L202.11 340.87 L204.2 336.36 L206.3 332.34 L208.39 328.79 L210.48 325.7 L212.57 323.07 L214.66 320.74 L216.76 318.69 L218.85 317.05 L220.94 315.9 L223.03 314.89 L225.12 314.03 L227.22 313.44 L229.31 313.25 L231.4 313.62 L233.49 314.32 L235.59 315.28 L237.68 316.64 L239.77 318.27 L241.86 320.05 L243.95 321.84 L246.05 323.67 L248.14 325.63 L250.23 327.75 L252.32 330.01 L254.41 332.43 L256.51 335.15 L258.6 338.22 L260.69 341.44 L262.78 344.63 L264.88 347.62 L266.97 350.36 L269.06 352.96 L271.15 355.52 L273.24 358.12 L275.34 360.82 L277.43 363.67 L279.52 366.61 L281.61 369.6 L283.7 372.6 L285.8 375.55 L287.89 378.45 L289.98 381.33 L292.07 384.2 L294.17 387.08 L296.26 389.98 L298.35 392.95 L300.44 395.98 L302.53 399 L304.63 401.93 L306.72 404.71 L308.81 407.35 L310.9 409.9 L312.99 412.36 L315.09 414.73 L317.18 416.99" fill="none" stroke="#0000ff" stroke-width="1.25" stroke-linejoin="round" stroke-linecap="butt"/>
<path d="M66.12 489.58 L68.21 488.84 L70.31 488.06 L72.4 487.23 L74.49 486.35 L76.58 485.43 L78.67 484.47 L80.77 483.44 L82.86 482.36 L84.95 481.23 L87.04 480.06 L89.14 478.85 L91.23 477.58 L93.32 476.26 L95.41 474.88 L97.5 473.45 L99.6 471.94 L101.69 470.32 L103.78 468.64 L105.87 466.96 L107.96 465.33 L110.06 463.77 L112.15 462.24 L114.24 460.72 L116.33 459.2 L118.43 457.66 L120.52 456.09 L122.61 454.48 L124.7 452.87 L126.79 451.26 L128.89 449.68 L130.98 448.12 L133.07 446.57 L135.16 445.04 L137.25 443.52 L139.35 442.01 L141.44 440.49 L143.53 438.97 L145.62 437.48 L147.72 436.03 L149.81 434.64 L151.9 433.39 L153.99 432.25 L156.08 431.03 L158.18 429.56 L160.27 427.75 L162.36 425.66 L164.45 423.36 L166.54 420.92 L168.64 418.41 L170.73 415.82 L172.82 413.02 L174.91 410.08 L177.01 407.04 L179.1 403.94 L181.19 400.9 L183.28 397.82 L185.37 394.43 L187.47 390.48 L189.56 385.83 L191.65 380.46 L193.74 374.3 L195.83 366.69 L197.93 358.77 L200.02 351.2 L202.11 345.01 L204.2 340.09 L206.3 335.66 L208.39 331.75 L210.48 328.36 L212.57 325.52 L214.66 323.08 L216.76 320.95 L218.85 319.24 L220.94 318.01 L223.03 316.9 L225.12 315.96 L227.22 315.31 L229.31 315.09 L231.4 315.52 L233.49 316.31 L235.59 317.41 L237.68 318.95 L239.77 320.77 L241.86 322.71 L243.95 324.6 L246.05 326.4 L248.14 328.23 L250.23 330.16 L252.32 332.25 L254.41 334.58 L256.51 337.37 L258.6 340.63 L260.69 344.11 L262.78 347.55 L264.88 350.69 L266.97 353.49 L269.06 356.13 L271.15 358.69 L273.24 361.25 L275.34 363.89 L277.43 366.61 L279.52 369.37 L281.61 372.15 L283.7 374.93 L285.8 377.7 L287.89 380.45 L289.98 383.18 L292.07 385.92 L294.17 388.69 L296.26 391.51 L298.35 394.45 L300.44 397.5 L302.53 400.55 L304.63 403.5 L306.72 406.25 L308.81 408.8 L310.9 411.25 L312.99 413.59 L315.09 415.82 L317.18 417.91" fill="none" stroke="#008080" stroke-width="1.25" stroke-linejoin="round" stroke-linecap="butt"/>
<path d="M66.12 490.35 L68.21 489.61 L70.31 488.83 L72.4 488 L74.49 487.12 L76.58 486.2 L78.67 485.23 L80.77 484.21 L82.86 483.13 L84.95 482 L87.04 480.83 L89.14 479.62 L91.23 478.35 L93.32 477.02 L95.41 475.65 L97.5 474.22 L99.6 472.71 L101.69 471.08 L103.78 469.41 L105.87 467.72 L107.96 466.1 L110.06 464.54 L112.15 463.01 L114.24 461.49 L116.33 459.97 L118.43 458.43 L120.52 456.85 L122.61 455.25 L124.7 453.63 L126.79 452.03 L128.89 450.44 L130.98 448.88 L133.07 447.34 L135.16 445.81 L137.25 444.29 L139.35 442.78 L141.44 441.26 L143.53 439.74 L145.62 438.24 L147.72 436.79 L149.81 435.4 L151.9 434.17 L153.99 433.07 L156.08 431.97 L158.18 430.74 L160.27 429.27 L162.36 427.32 L164.45 424.91 L166.54 422.24 L168.64 419.52 L170.73 416.95 L172.82 414.56 L174.91 412.24 L177.01 409.87 L179.1 407.37 L181.19 404.64 L183.28 401.63 L185.37 398.31 L187.47 394.58 L189.56 390.24 L191.65 384.75 L193.74 378.73 L195.83 373.04 L197.93 367.31 L200.02 361.12 L202.11 355.29 L204.2 349.95 L206.3 344.74 L208.39 339.84 L210.48 335.42 L212.57 331.66 L214.66 328.42 L216.76 325.53 L218.85 323.13 L220.94 321.35 L223.03 319.98 L225.12 318.92 L227.22 317.98 L229.31 317.55 L231.4 318.07 L233.49 318.92 L235.59 319.67 L237.68 320.72 L239.77 322.6 L241.86 325.08 L243.95 327.67 L246.05 330.29 L248.14 333.12 L250.23 336.05 L252.32 338.97 L254.41 341.79 L256.51 344.48 L258.6 347.1 L260.69 349.71 L262.78 352.32 L264.88 354.99 L266.97 357.71 L269.06 360.45 L271.15 363.22 L273.24 366.01 L275.34 368.8 L277.43 371.62 L279.52 374.49 L281.61 377.35 L283.7 380.17 L285.8 382.92 L287.89 385.58 L289.98 388.17 L292.07 390.73 L294.17 393.27 L296.26 395.81 L298.35 398.36 L300.44 400.91 L302.53 403.44 L304.63 405.94 L306.72 408.39 L308.81 410.8 L310.9 413.17 L312.99 415.5 L315.09 417.8 L317.18 420.06" fill="none" stroke="#ff00ff" stroke-width="1.25" stroke-linejoin="round" stroke-linecap="butt"/>
<path d="M66.12 487.89 L68.21 487.16 L70.31 486.37 L72.4 485.54 L74.49 484.66 L76.58 483.75 L78.67 482.78 L80.77 481.75 L82.86 480.67 L84.95 479.54 L87.04 478.37 L89.14 477.16 L91.23 475.89 L93.32 474.57 L95.41 473.19 L97.5 471.76 L99.6 470.25 L101.69 468.63 L103.78 466.95 L105.87 465.27 L107.96 463.64 L110.06 462.08 L112.15 460.55 L114.24 459.04 L116.33 457.52 L118.43 455.97 L120.52 454.4 L122.61 452.79 L124.7 451.18 L126.79 449.57 L128.89 447.99 L130.98 446.43 L133.07 444.88 L135.16 443.35 L137.25 441.83 L139.35 440.32 L141.44 438.8 L143.53 437.27 L145.62 435.76 L147.72 434.31 L149.81 432.95 L151.9 431.79 L153.99 430.65 L156.08 429.08 L158.18 426.94 L160.27 424.37 L162.36 421.51 L164.45 418.54 L166.54 415.56 L168.64 412.42 L170.73 409.02 L172.82 405.3 L174.91 401.17 L177.01 396.52 L179.1 391.19 L181.19 384.64 L183.28 376.9 L185.37 369.5 L187.47 363.44 L189.56 357.96 L191.65 352.53 L193.74 346.73 L195.83 340.85 L197.93 335.39 L200.02 330.85 L202.11 327.36 L204.2 323.95 L206.3 320.54 L208.39 317.31 L210.48 314.41 L212.57 312.02 L214.66 310.01 L216.76 308.23 L218.85 306.81 L220.94 305.82 L223.03 305.01 L225.12 304.65 L227.22 304.87 L229.31 305.42 L231.4 306.17 L233.49 306.95 L235.59 307.8 L237.68 308.82 L239.77 309.98 L241.86 311.26 L243.95 312.63 L246.05 314.14 L248.14 315.83 L250.23 317.7 L252.32 319.7 L254.41 321.84 L256.51 324.21 L258.6 326.86 L260.69 329.67 L262.78 332.54 L264.88 335.34 L266.97 338.1 L269.06 340.88 L271.15 343.66 L273.24 346.43 L275.34 349.16 L277.43 351.77 L279.52 354.3 L281.61 356.84 L283.7 359.49 L285.8 362.35 L287.89 365.59 L289.98 369.14 L292.07 372.83 L294.17 376.46 L296.26 379.85 L298.35 383 L300.44 386.05 L302.53 389 L304.63 391.85 L306.72 394.58 L308.81 397.22 L310.9 399.77 L312.99 402.23 L315.09 404.6 L317.18 406.86" fill="none" stroke="#808000" stroke-width="1.25" stroke-linejoin="round" stroke-linecap="butt"/>
<path d="M39.9 284.7 H338.1 V517.5" fill="none" stroke="#3a3a3a" stroke-width="1.2"/>
<path d="M45.2 284.7 V514.9 M42.4 514.9 H338.1" fill="none" stroke="#3a3a3a" stroke-width="1.3"/>
<path d="M39.9 499.55 H45.2 M42.4 484.21 H45.2 M39.9 468.86 H45.2 M42.4 453.51 H45.2 M39.9 438.17 H45.2 M42.4 422.82 H45.2 M39.9 407.47 H45.2 M42.4 392.13 H45.2 M39.9 376.78 H45.2 M42.4 361.43 H45.2 M39.9 346.09 H45.2 M42.4 330.74 H45.2 M39.9 315.39 H45.2 M42.4 300.05 H45.2 M39.9 284.7 H45.2 M45.2 514.9 V517.7 M66.12 514.9 V520.2 M87.04 514.9 V517.7 M107.96 514.9 V520.2 M128.89 514.9 V517.7 M149.81 514.9 V520.2 M170.73 514.9 V517.7 M191.65 514.9 V520.2 M212.57 514.9 V517.7 M233.49 514.9 V520.2 M254.41 514.9 V517.7 M275.34 514.9 V520.2 M296.26 514.9 V517.7 M317.18 514.9 V520.2 M338.1 514.9 V517.7" fill="none" stroke="#3a3a3a" stroke-width="1.2"/>
<text x="36.8" y="502.03" font-size="7.9" text-anchor="end">10</text>
<text x="36.8" y="471.34" font-size="7.9" text-anchor="end">20</text>
<text x="36.8" y="440.64" font-size="7.9" text-anchor="end">30</text>
<text x="36.8" y="409.95" font-size="7.9" text-anchor="end">40</text>
<text x="36.8" y="379.26" font-size="7.9" text-anchor="end">50</text>
<text x="36.8" y="348.56" font-size="7.9" text-anchor="end">60</text>
<text x="36.8" y="317.87" font-size="7.9" text-anchor="end">70</text>
<text x="36.8" y="287.18" font-size="7.9" text-anchor="end">80</text>
<text x="66.32" y="530" font-size="7.9" text-anchor="middle">-30</text>
<text x="108.16" y="530" font-size="7.9" text-anchor="middle">-20</text>
<text x="150.01" y="530" font-size="7.9" text-anchor="middle">-10</text>
<text x="191.65" y="530" font-size="7.9" text-anchor="middle">0</text>
<text x="233.49" y="530" font-size="7.9" text-anchor="middle">10</text>
<text x="275.34" y="530" font-size="7.9" text-anchor="middle">20</text>
<text x="317.18" y="530" font-size="7.9" text-anchor="middle">30</text>
<text x="82" y="294" font-size="8.83" textLength="229.2" lengthAdjust="spacingAndGlyphs">Cylinder pressure @ CR 17.5 for 200 bar of SOME in UCE</text>
<text x="156.6" y="540.4" font-size="9.75" textLength="78" lengthAdjust="spacingAndGlyphs">Crank angle (deg)</text>
<text transform="translate(23 442.6) rotate(-90)" font-size="10" textLength="103.4" lengthAdjust="spacingAndGlyphs">Cylinder Pressure (bar)</text>
<text x="36" y="543.2" class="pl" font-size="12">(b)</text>
<rect x="46.4" y="312.4" width="55.2" height="66.7" fill="#fff" stroke="#8c8c8c" stroke-width="0.8"/>
<path d="M47.1 317.8 H67.7" stroke="#000000" stroke-width="1.3" fill="none"/>
<text x="69.9" y="320.91" font-size="8.69" textLength="15.46" lengthAdjust="spacingAndGlyphs">B20</text>
<path d="M47.1 329 H67.7" stroke="#ff0000" stroke-width="1.3" fill="none"/>
<text x="69.9" y="332.11" font-size="8.69" textLength="15.46" lengthAdjust="spacingAndGlyphs">B40</text>
<path d="M47.1 340.4 H67.7" stroke="#0000ff" stroke-width="1.3" fill="none"/>
<text x="69.9" y="343.51" font-size="8.69" textLength="15.46" lengthAdjust="spacingAndGlyphs">B60</text>
<path d="M47.1 351.5 H67.7" stroke="#008080" stroke-width="1.3" fill="none"/>
<text x="69.9" y="354.61" font-size="8.69" textLength="15.46" lengthAdjust="spacingAndGlyphs">B80</text>
<path d="M47.1 362.9 H67.7" stroke="#ff00ff" stroke-width="1.3" fill="none"/>
<text x="69.9" y="366.01" font-size="8.69" textLength="20.29" lengthAdjust="spacingAndGlyphs">B100</text>
<path d="M47.1 374.3 H67.7" stroke="#808000" stroke-width="1.3" fill="none"/>
<text x="69.9" y="377.41" font-size="8.69" textLength="30.9" lengthAdjust="spacingAndGlyphs">DIESEL</text>
</g>
<g id="pe">
<path d="M401.44 486.55 L403.53 485.91 L405.62 485.19 L407.72 484.4 L409.81 483.56 L411.9 482.65 L414 481.66 L416.09 480.58 L418.18 479.43 L420.28 478.21 L422.37 476.97 L424.47 475.66 L426.56 474.27 L428.65 472.83 L430.75 471.35 L432.84 469.86 L434.93 468.28 L437.03 466.65 L439.12 465.22 L441.21 464.13 L443.31 463.06 L445.4 461.78 L447.49 460.4 L449.59 458.94 L451.68 457.44 L453.77 455.95 L455.87 454.44 L457.96 452.87 L460.06 451.3 L462.15 449.74 L464.24 448.22 L466.34 446.76 L468.43 445.34 L470.52 443.93 L472.62 442.53 L474.71 441.11 L476.8 439.71 L478.9 438.32 L480.99 436.93 L483.09 435.5 L485.18 434.01 L487.27 432.53 L489.37 431.1 L491.46 429.65 L493.55 428.08 L495.65 426.33 L497.74 424.32 L499.83 421.89 L501.93 418.64 L504.02 414.79 L506.11 410.52 L508.21 405.5 L510.3 399.94 L512.39 393.63 L514.49 386.94 L516.58 380.23 L518.68 373.45 L520.77 366.9 L522.86 360.34 L524.96 354.04 L527.05 348.39 L529.14 343.37 L531.24 338.67 L533.33 334.29 L535.42 330.22 L537.52 326.45 L539.61 322.87 L541.71 319.44 L543.8 316.26 L545.89 313.41 L547.99 311 L550.08 308.71 L552.17 306.51 L554.27 304.85 L556.36 304.2 L558.45 304.24 L560.55 304.36 L562.64 304.55 L564.73 304.8 L566.83 305.1 L568.92 305.43 L571.01 306.02 L573.11 306.98 L575.2 308.21 L577.3 309.59 L579.39 311 L581.48 312.5 L583.58 314.2 L585.67 316.09 L587.76 318.12 L589.86 320.27 L591.95 322.65 L594.04 325.3 L596.14 328.12 L598.23 331.01 L600.33 333.87 L602.42 336.7 L604.51 339.57 L606.61 342.47 L608.7 345.42 L610.79 348.39 L612.89 351.41 L614.98 354.48 L617.07 357.58 L619.17 360.7 L621.26 363.85 L623.35 367.08 L625.45 370.4 L627.54 373.71 L629.63 376.91 L631.73 379.92 L633.82 382.69 L635.92 385.3 L638.01 387.82 L640.1 390.33 L642.2 392.9 L644.29 395.53 L646.38 398.18 L648.48 400.84 L650.57 403.51 L652.66 406.19" fill="none" stroke="#000000" stroke-width="1.25" stroke-linejoin="round" stroke-linecap="butt"/>
<path d="M401.44 487.47 L403.53 486.83 L405.62 486.12 L407.72 485.33 L409.81 484.48 L411.9 483.58 L414 482.59 L416.09 481.51 L418.18 480.35 L420.28 479.14 L422.37 477.89 L424.47 476.59 L426.56 475.2 L428.65 473.75 L430.75 472.27 L432.84 470.79 L434.93 469.2 L437.03 467.58 L439.12 466.15 L441.21 465.05 L443.31 463.99 L445.4 462.71 L447.49 461.33 L449.59 459.87 L451.68 458.37 L453.77 456.88 L455.87 455.36 L457.96 453.8 L460.06 452.23 L462.15 450.67 L464.24 449.15 L466.34 447.69 L468.43 446.26 L470.52 444.86 L472.62 443.45 L474.71 442.04 L476.8 440.64 L478.9 439.25 L480.99 437.86 L483.09 436.43 L485.18 434.93 L487.27 433.44 L489.37 431.98 L491.46 430.49 L493.55 428.93 L495.65 427.23 L497.74 425.34 L499.83 423.19 L501.93 420.54 L504.02 417.3 L506.11 413.67 L508.21 409.67 L510.3 405.06 L512.39 399.85 L514.49 393.57 L516.58 386.81 L518.68 380.04 L520.77 373.24 L522.86 366.96 L524.96 361.09 L527.05 355.5 L529.14 349.98 L531.24 344.45 L533.33 339.16 L535.42 334.32 L537.52 330.16 L539.61 326.5 L541.71 323.07 L543.8 319.99 L545.89 317.37 L547.99 315.32 L550.08 313.72 L552.17 312.34 L554.27 311.22 L556.36 310.38 L558.45 309.68 L560.55 309.07 L562.64 308.64 L564.73 308.53 L566.83 308.63 L568.92 308.83 L571.01 309.35 L573.11 310.35 L575.2 311.67 L577.3 313.17 L579.39 314.71 L581.48 316.4 L583.58 318.41 L585.67 320.6 L587.76 322.86 L589.86 325.06 L591.95 327.15 L594.04 329.2 L596.14 331.32 L598.23 333.56 L600.33 336.03 L602.42 338.88 L604.51 342.1 L606.61 345.5 L608.7 348.9 L610.79 352.1 L612.89 355.1 L614.98 358.01 L617.07 360.87 L619.17 363.73 L621.26 366.63 L623.35 369.61 L625.45 372.64 L627.54 375.66 L629.63 378.62 L631.73 381.47 L633.82 384.15 L635.92 386.71 L638.01 389.23 L640.1 391.78 L642.2 394.45 L644.29 397.22 L646.38 400.06 L648.48 402.97 L650.57 405.94 L652.66 408.97" fill="none" stroke="#ff0000" stroke-width="1.25" stroke-linejoin="round" stroke-linecap="butt"/>
<path d="M401.44 487.32 L403.53 486.68 L405.62 485.96 L407.72 485.17 L409.81 484.33 L411.9 483.43 L414 482.44 L416.09 481.35 L418.18 480.2 L420.28 478.99 L422.37 477.74 L424.47 476.43 L426.56 475.04 L428.65 473.6 L430.75 472.12 L432.84 470.63 L434.93 469.05 L437.03 467.43 L439.12 465.99 L441.21 464.9 L443.31 463.83 L445.4 462.56 L447.49 461.17 L449.59 459.71 L451.68 458.22 L453.77 456.72 L455.87 455.21 L457.96 453.65 L460.06 452.07 L462.15 450.51 L464.24 449 L466.34 447.54 L468.43 446.11 L470.52 444.7 L472.62 443.3 L474.71 441.89 L476.8 440.48 L478.9 439.07 L480.99 437.66 L483.09 436.24 L485.18 434.78 L487.27 433.35 L489.37 431.98 L491.46 430.62 L493.55 429.21 L495.65 427.71 L497.74 426.04 L499.83 424.18 L501.93 421.99 L504.02 419.26 L506.11 416.08 L508.21 412.64 L510.3 408.85 L512.39 404.58 L514.49 399.82 L516.58 394.2 L518.68 388.1 L520.77 382.16 L522.86 376.2 L524.96 369.75 L527.05 362.3 L529.14 355.56 L531.24 348.99 L533.33 342.84 L535.42 337.41 L537.52 332.94 L539.61 329.25 L541.71 325.95 L543.8 323.05 L545.89 320.54 L547.99 318.42 L550.08 316.55 L552.17 314.88 L554.27 313.51 L556.36 312.54 L558.45 311.83 L560.55 311.22 L562.64 310.8 L564.73 310.7 L566.83 310.91 L568.92 311.31 L571.01 312.07 L573.11 313.35 L575.2 314.97 L577.3 316.72 L579.39 318.42 L581.48 320.03 L583.58 321.7 L585.67 323.48 L587.76 325.41 L589.86 327.53 L591.95 330 L594.04 332.84 L596.14 335.88 L598.23 338.96 L600.33 341.9 L602.42 344.71 L604.51 347.47 L606.61 350.23 L608.7 353 L610.79 355.81 L612.89 358.68 L614.98 361.58 L617.07 364.5 L619.17 367.42 L621.26 370.34 L623.35 373.25 L625.45 376.18 L627.54 379.1 L629.63 382 L631.73 384.86 L633.82 387.69 L635.92 390.47 L638.01 393.24 L640.1 396 L642.2 398.77 L644.29 401.55 L646.38 404.34 L648.48 407.12 L650.57 409.9 L652.66 412.68" fill="none" stroke="#0000ff" stroke-width="1.25" stroke-linejoin="round" stroke-linecap="butt"/>
<path d="M401.44 487.78 L403.53 487.14 L405.62 486.42 L407.72 485.64 L409.81 484.79 L411.9 483.89 L414 482.9 L416.09 481.82 L418.18 480.66 L420.28 479.45 L422.37 478.2 L424.47 476.9 L426.56 475.51 L428.65 474.06 L430.75 472.58 L432.84 471.09 L434.93 469.51 L437.03 467.89 L439.12 466.46 L441.21 465.36 L443.31 464.29 L445.4 463.02 L447.49 461.64 L449.59 460.18 L451.68 458.68 L453.77 457.19 L455.87 455.67 L457.96 454.11 L460.06 452.53 L462.15 450.97 L464.24 449.46 L466.34 448 L468.43 446.57 L470.52 445.17 L472.62 443.76 L474.71 442.35 L476.8 440.93 L478.9 439.52 L480.99 438.11 L483.09 436.69 L485.18 435.24 L487.27 433.83 L489.37 432.49 L491.46 431.15 L493.55 429.79 L495.65 428.36 L497.74 426.8 L499.83 425.07 L501.93 423.12 L504.02 420.8 L506.11 418.11 L508.21 415.08 L510.3 411.73 L512.39 407.74 L514.49 403.25 L516.58 398.48 L518.68 393.22 L520.77 387.72 L522.86 382.21 L524.96 376.58 L527.05 371.01 L529.14 365.53 L531.24 359.99 L533.33 354.56 L535.42 349.4 L537.52 344.69 L539.61 340.34 L541.71 336.2 L543.8 332.33 L545.89 328.75 L547.99 325.52 L550.08 322.41 L552.17 319.42 L554.27 316.93 L556.36 315.32 L558.45 314.34 L560.55 313.53 L562.64 313 L564.73 312.86 L566.83 313.2 L568.92 313.78 L571.01 314.61 L573.11 315.81 L575.2 317.28 L577.3 318.91 L579.39 320.58 L581.48 322.37 L583.58 324.39 L585.67 326.57 L587.76 328.88 L589.86 331.24 L591.95 333.72 L594.04 336.37 L596.14 339.13 L598.23 341.92 L600.33 344.69 L602.42 347.44 L604.51 350.22 L606.61 353.01 L608.7 355.8 L610.79 358.59 L612.89 361.37 L614.98 364.13 L617.07 366.9 L619.17 369.68 L621.26 372.5 L623.35 375.36 L625.45 378.25 L627.54 381.17 L629.63 384.09 L631.73 387.03 L633.82 389.98 L635.92 392.95 L638.01 395.94 L640.1 398.91 L642.2 401.86 L644.29 404.79 L646.38 407.71 L648.48 410.62 L650.57 413.51 L652.66 416.39" fill="none" stroke="#008080" stroke-width="1.25" stroke-linejoin="round" stroke-linecap="butt"/>
<path d="M401.44 489.02 L403.53 488.38 L405.62 487.66 L407.72 486.87 L409.81 486.03 L411.9 485.13 L414 484.14 L416.09 483.05 L418.18 481.9 L420.28 480.69 L422.37 479.44 L424.47 478.13 L426.56 476.74 L428.65 475.3 L430.75 473.82 L432.84 472.33 L434.93 470.75 L437.03 469.13 L439.12 467.69 L441.21 466.6 L443.31 465.53 L445.4 464.26 L447.49 462.87 L449.59 461.41 L451.68 459.92 L453.77 458.42 L455.87 456.91 L457.96 455.35 L460.06 453.77 L462.15 452.21 L464.24 450.7 L466.34 449.24 L468.43 447.81 L470.52 446.4 L472.62 445 L474.71 443.59 L476.8 442.16 L478.9 440.73 L480.99 439.31 L483.09 437.89 L485.18 436.48 L487.27 435.13 L489.37 433.86 L491.46 432.62 L493.55 431.37 L495.65 430.09 L497.74 428.72 L499.83 427.23 L501.93 425.59 L504.02 423.73 L506.11 421.6 L508.21 419.18 L510.3 416.43 L512.39 413.11 L514.49 409.12 L516.58 404.9 L518.68 400.67 L520.77 396.26 L522.86 391.52 L524.96 386.14 L527.05 380.32 L529.14 375.33 L531.24 370.75 L533.33 364.87 L535.42 358.16 L537.52 352.1 L539.61 346.93 L541.71 342.01 L543.8 337.48 L545.89 333.48 L547.99 330.16 L550.08 327.38 L552.17 324.94 L554.27 322.86 L556.36 321.2 L558.45 319.87 L560.55 318.82 L562.64 318.04 L564.73 317.33 L566.83 316.78 L568.92 316.56 L571.01 316.98 L573.11 317.96 L575.2 319.36 L577.3 321.72 L579.39 324.29 L581.48 326.8 L583.58 329.37 L585.67 331.62 L587.76 333.51 L589.86 335.57 L591.95 338.18 L594.04 341.18 L596.14 344.38 L598.23 347.57 L600.33 350.56 L602.42 353.32 L604.51 356 L606.61 358.63 L608.7 361.24 L610.79 363.85 L612.89 366.46 L614.98 369.05 L617.07 371.63 L619.17 374.22 L621.26 376.83 L623.35 379.45 L625.45 382.07 L627.54 384.7 L629.63 387.38 L631.73 390.12 L633.82 392.94 L635.92 395.84 L638.01 398.77 L640.1 401.72 L642.2 404.65 L644.29 407.55 L646.38 410.46 L648.48 413.36 L650.57 416.27 L652.66 419.17" fill="none" stroke="#ff00ff" stroke-width="1.25" stroke-linejoin="round" stroke-linecap="butt"/>
<path d="M401.44 486.08 L403.53 485.44 L405.62 484.72 L407.72 483.94 L409.81 483.09 L411.9 482.19 L414 481.2 L416.09 480.12 L418.18 478.96 L420.28 477.75 L422.37 476.5 L424.47 475.2 L426.56 473.81 L428.65 472.36 L430.75 470.88 L432.84 469.39 L434.93 467.81 L437.03 466.19 L439.12 464.76 L441.21 463.66 L443.31 462.6 L445.4 461.32 L447.49 459.94 L449.59 458.48 L451.68 456.98 L453.77 455.49 L455.87 453.97 L457.96 452.41 L460.06 450.84 L462.15 449.27 L464.24 447.76 L466.34 446.3 L468.43 444.87 L470.52 443.47 L472.62 442.06 L474.71 440.65 L476.8 439.26 L478.9 437.88 L480.99 436.5 L483.09 435.07 L485.18 433.54 L487.27 431.99 L489.37 430.44 L491.46 428.81 L493.55 427.02 L495.65 424.99 L497.74 422.63 L499.83 419.55 L501.93 415.84 L504.02 411.71 L506.11 406.96 L508.21 401.46 L510.3 394.67 L512.39 387.12 L514.49 380.24 L516.58 373.58 L518.68 366.98 L520.77 360.19 L522.86 353.47 L524.96 347.16 L527.05 341.6 L529.14 336.68 L531.24 332.1 L533.33 327.88 L535.42 324.04 L537.52 320.58 L539.61 317.45 L541.71 314.57 L543.8 311.93 L545.89 309.5 L547.99 307.29 L550.08 304.99 L552.17 302.68 L554.27 300.89 L556.36 300.18 L558.45 300.19 L560.55 300.22 L562.64 300.26 L564.73 300.32 L566.83 300.4 L568.92 300.49 L571.01 301.07 L573.11 302.42 L575.2 304.25 L577.3 306.28 L579.39 308.22 L581.48 310.1 L583.58 312.14 L585.67 314.32 L587.76 316.62 L589.86 319.03 L591.95 321.6 L594.04 324.36 L596.14 327.25 L598.23 330.23 L600.33 333.25 L602.42 336.36 L604.51 339.62 L606.61 342.92 L608.7 346.18 L610.79 349.32 L612.89 352.3 L614.98 355.17 L617.07 358 L619.17 360.87 L621.26 363.85 L623.35 367.01 L625.45 370.32 L627.54 373.66 L629.63 376.9 L631.73 379.92 L633.82 382.68 L635.92 385.27 L638.01 387.78 L640.1 390.29 L642.2 392.9 L644.29 395.61 L646.38 398.35 L648.48 401.13 L650.57 403.95 L652.66 406.81" fill="none" stroke="#808000" stroke-width="1.25" stroke-linejoin="round" stroke-linecap="butt"/>
<path d="M375.2 283.8 H673.6 V518.2" fill="none" stroke="#3a3a3a" stroke-width="1.2"/>
<path d="M380.5 283.8 V515.6 M377.7 515.6 H673.6" fill="none" stroke="#3a3a3a" stroke-width="1.3"/>
<path d="M375.2 500.15 H380.5 M377.7 484.69 H380.5 M375.2 469.24 H380.5 M377.7 453.79 H380.5 M375.2 438.33 H380.5 M377.7 422.88 H380.5 M375.2 407.43 H380.5 M377.7 391.97 H380.5 M375.2 376.52 H380.5 M377.7 361.07 H380.5 M375.2 345.61 H380.5 M377.7 330.16 H380.5 M375.2 314.71 H380.5 M377.7 299.25 H380.5 M375.2 283.8 H380.5 M380.5 515.6 V518.4 M401.44 515.6 V520.9 M422.37 515.6 V518.4 M443.31 515.6 V520.9 M464.24 515.6 V518.4 M485.18 515.6 V520.9 M506.11 515.6 V518.4 M527.05 515.6 V520.9 M547.99 515.6 V518.4 M568.92 515.6 V520.9 M589.86 515.6 V518.4 M610.79 515.6 V520.9 M631.73 515.6 V518.4 M652.66 515.6 V520.9 M673.6 515.6 V518.4" fill="none" stroke="#3a3a3a" stroke-width="1.2"/>
<text x="372.1" y="502.62" font-size="7.9" text-anchor="end">10</text>
<text x="372.1" y="471.72" font-size="7.9" text-anchor="end">20</text>
<text x="372.1" y="440.81" font-size="7.9" text-anchor="end">30</text>
<text x="372.1" y="409.9" font-size="7.9" text-anchor="end">40</text>
<text x="372.1" y="379" font-size="7.9" text-anchor="end">50</text>
<text x="372.1" y="348.09" font-size="7.9" text-anchor="end">60</text>
<text x="372.1" y="317.18" font-size="7.9" text-anchor="end">70</text>
<text x="372.1" y="286.28" font-size="7.9" text-anchor="end">80</text>
<text x="401.64" y="530.4" font-size="7.9" text-anchor="middle">-30</text>
<text x="443.51" y="530.4" font-size="7.9" text-anchor="middle">-20</text>
<text x="485.38" y="530.4" font-size="7.9" text-anchor="middle">-10</text>
<text x="527.05" y="530.4" font-size="7.9" text-anchor="middle">0</text>
<text x="568.92" y="530.4" font-size="7.9" text-anchor="middle">10</text>
<text x="610.79" y="530.4" font-size="7.9" text-anchor="middle">20</text>
<text x="652.66" y="530.4" font-size="7.9" text-anchor="middle">30</text>
<text x="410.2" y="294.6" font-size="8.81" textLength="233.4" lengthAdjust="spacingAndGlyphs">Cylinder pressure @ CR 17.5 for 200 bar of SOME in TBCE</text>
<text x="492.4" y="540.9" font-size="9.68" textLength="77.5" lengthAdjust="spacingAndGlyphs">Crank angle (deg)</text>
<text transform="translate(356.3 447.4) rotate(-90)" font-size="9.96" textLength="102.9" lengthAdjust="spacingAndGlyphs">Cylinder Pressure (bar)</text>
<text x="380.7" y="543.9" class="pl" font-size="12">(e)</text>
<rect x="382.1" y="311.5" width="49.2" height="59.6" fill="#fff" stroke="#8c8c8c" stroke-width="0.8"/>
<path d="M382.6 316.9 H400.7" stroke="#000000" stroke-width="1.3" fill="none"/>
<text x="402.9" y="319.66" font-size="7.7" textLength="13.7" lengthAdjust="spacingAndGlyphs">B20</text>
<path d="M382.6 326.8 H400.7" stroke="#ff0000" stroke-width="1.3" fill="none"/>
<text x="402.9" y="329.56" font-size="7.7" textLength="13.7" lengthAdjust="spacingAndGlyphs">B40</text>
<path d="M382.6 336.8 H400.7" stroke="#0000ff" stroke-width="1.3" fill="none"/>
<text x="402.9" y="339.56" font-size="7.7" textLength="13.7" lengthAdjust="spacingAndGlyphs">B60</text>
<path d="M382.6 346.7 H400.7" stroke="#008080" stroke-width="1.3" fill="none"/>
<text x="402.9" y="349.46" font-size="7.7" textLength="13.7" lengthAdjust="spacingAndGlyphs">B80</text>
<path d="M382.6 356.8 H400.7" stroke="#ff00ff" stroke-width="1.3" fill="none"/>
<text x="402.9" y="359.56" font-size="7.7" textLength="17.99" lengthAdjust="spacingAndGlyphs">B100</text>
<path d="M382.6 366.7 H400.7" stroke="#808000" stroke-width="1.3" fill="none"/>
<text x="402.9" y="369.46" font-size="7.7" textLength="27.4" lengthAdjust="spacingAndGlyphs">DIESEL</text>
</g>
<g id="pc">
<path d="M63.96 766.97 L66.05 766.26 L68.15 765.46 L70.24 764.57 L72.34 763.61 L74.44 762.59 L76.53 761.44 L78.63 760.13 L80.72 758.75 L82.82 757.35 L84.91 756.02 L87.01 754.75 L89.11 753.51 L91.2 752.27 L93.3 751.03 L95.39 749.76 L97.49 748.47 L99.58 747.17 L101.68 745.86 L103.78 744.53 L105.87 743.19 L107.97 741.86 L110.06 740.52 L112.16 739.16 L114.25 737.77 L116.35 736.31 L118.45 734.75 L120.54 733.09 L122.64 731.4 L124.73 729.74 L126.83 728.18 L128.92 726.8 L131.02 725.56 L133.12 724.33 L135.21 722.95 L137.31 721.3 L139.4 719.06 L141.5 716.37 L143.59 713.77 L145.69 711.2 L147.79 708.32 L149.88 704.79 L151.98 700.73 L154.07 696.15 L156.17 690.99 L158.26 685.71 L160.36 680.79 L162.46 676.59 L164.55 672.58 L166.65 667.86 L168.74 661.84 L170.84 655.39 L172.93 649.24 L175.03 642.99 L177.13 636.16 L179.22 627.86 L181.32 620.34 L183.41 614.82 L185.51 609.99 L187.6 605.82 L189.7 602.28 L191.8 599.15 L193.89 596.3 L195.99 593.77 L198.08 591.58 L200.18 589.76 L202.27 588.25 L204.37 586.92 L206.47 585.75 L208.56 584.73 L210.66 583.82 L212.75 582.93 L214.85 582.04 L216.94 581.25 L219.04 580.66 L221.14 580.39 L223.23 580.56 L225.33 581.21 L227.42 582.18 L229.52 583.31 L231.61 584.45 L233.71 585.67 L235.81 587.12 L237.9 588.71 L240 590.35 L242.09 591.95 L244.19 593.45 L246.28 594.91 L248.38 596.42 L250.48 598.11 L252.57 600.09 L254.67 602.62 L256.76 605.75 L258.86 609.21 L260.95 612.72 L263.05 616.04 L265.15 619.14 L267.24 622.22 L269.34 625.27 L271.43 628.31 L273.53 631.37 L275.62 634.4 L277.72 637.4 L279.82 640.42 L281.91 643.5 L284.01 646.69 L286.1 650.1 L288.2 653.68 L290.29 657.31 L292.39 660.87 L294.49 664.21 L296.58 667.32 L298.68 670.29 L300.77 673.18 L302.87 676.03 L304.96 678.91 L307.06 681.82 L309.16 684.71 L311.25 687.58 L313.35 690.45 L315.44 693.3" fill="none" stroke="#000000" stroke-width="1.25" stroke-linejoin="round" stroke-linecap="butt"/>
<path d="M63.96 768.22 L66.05 767.51 L68.15 766.71 L70.24 765.82 L72.34 764.86 L74.44 763.84 L76.53 762.69 L78.63 761.38 L80.72 760 L82.82 758.6 L84.91 757.27 L87.01 756 L89.11 754.76 L91.2 753.52 L93.3 752.28 L95.39 751.01 L97.49 749.72 L99.58 748.42 L101.68 747.11 L103.78 745.78 L105.87 744.44 L107.97 743.11 L110.06 741.77 L112.16 740.41 L114.25 739.02 L116.35 737.56 L118.45 736 L120.54 734.34 L122.64 732.65 L124.73 730.99 L126.83 729.43 L128.92 728.05 L131.02 726.81 L133.12 725.58 L135.21 724.2 L137.31 722.55 L139.4 720.33 L141.5 717.66 L143.59 714.92 L145.69 712.03 L147.79 708.94 L149.88 705.7 L151.98 702.2 L154.07 698.14 L156.17 693.18 L158.26 687.81 L160.36 682.65 L162.46 678.26 L164.55 674.39 L166.65 670.45 L168.74 666 L170.84 661.16 L172.93 655.91 L175.03 650.03 L177.13 643.56 L179.22 637.12 L181.32 630.81 L183.41 624.53 L185.51 618.35 L187.6 611.78 L189.7 606.66 L191.8 603.44 L193.89 600.82 L195.99 598.63 L198.08 596.67 L200.18 594.77 L202.27 592.84 L204.37 590.98 L206.47 589.27 L208.56 587.79 L210.66 586.64 L212.75 585.66 L214.85 584.74 L216.94 584 L219.04 583.57 L221.14 583.56 L223.23 583.95 L225.33 584.63 L227.42 585.52 L229.52 586.54 L231.61 587.58 L233.71 588.79 L235.81 590.31 L237.9 592.04 L240 593.88 L242.09 595.71 L244.19 597.5 L246.28 599.33 L248.38 601.27 L250.48 603.38 L252.57 605.72 L254.67 608.49 L256.76 611.71 L258.86 615.17 L260.95 618.67 L263.05 621.98 L265.15 625.08 L267.24 628.11 L269.34 631.12 L271.43 634.16 L273.53 637.31 L275.62 640.63 L277.72 644.08 L279.82 647.56 L281.91 650.97 L284.01 654.2 L286.1 657.25 L288.2 660.19 L290.29 663.04 L292.39 665.83 L294.49 668.59 L296.58 671.27 L298.68 673.86 L300.77 676.42 L302.87 679.03 L304.96 681.73 L307.06 684.54 L309.16 687.41 L311.25 690.36 L313.35 693.36 L315.44 696.43" fill="none" stroke="#ff0000" stroke-width="1.25" stroke-linejoin="round" stroke-linecap="butt"/>
<path d="M63.96 768.06 L66.05 767.35 L68.15 766.55 L70.24 765.66 L72.34 764.7 L74.44 763.68 L76.53 762.53 L78.63 761.23 L80.72 759.84 L82.82 758.45 L84.91 757.11 L87.01 755.85 L89.11 754.6 L91.2 753.37 L93.3 752.12 L95.39 750.86 L97.49 749.57 L99.58 748.27 L101.68 746.95 L103.78 745.63 L105.87 744.29 L107.97 742.95 L110.06 741.61 L112.16 740.26 L114.25 738.86 L116.35 737.41 L118.45 735.84 L120.54 734.19 L122.64 732.49 L124.73 730.84 L126.83 729.27 L128.92 727.9 L131.02 726.66 L133.12 725.42 L135.21 724.04 L137.31 722.39 L139.4 720.16 L141.5 717.48 L143.59 714.82 L145.69 712.13 L147.79 709.25 L149.88 706.17 L151.98 702.83 L154.07 699.07 L156.17 694.52 L158.26 689.47 L160.36 684.44 L162.46 679.96 L164.55 676.15 L166.65 672.5 L168.74 668.47 L170.84 663.84 L172.93 658.8 L175.03 653.53 L177.13 647.89 L179.22 642.04 L181.32 636.24 L183.41 630.45 L185.51 624.69 L187.6 619.1 L189.7 613.85 L191.8 610.02 L193.89 606.68 L195.99 603.72 L198.08 601.04 L200.18 598.52 L202.27 596.05 L204.37 593.64 L206.47 591.45 L208.56 589.59 L210.66 588.2 L212.75 587.1 L214.85 586.08 L216.94 585.28 L219.04 584.82 L221.14 584.81 L223.23 585.21 L225.33 585.92 L227.42 586.87 L229.52 587.97 L231.61 589.14 L233.71 590.66 L235.81 592.73 L237.9 595.14 L240 597.66 L242.09 600.09 L244.19 602.39 L246.28 604.7 L248.38 607.09 L250.48 609.6 L252.57 612.29 L254.67 615.29 L256.76 618.59 L258.86 622.02 L260.95 625.4 L263.05 628.55 L265.15 631.43 L267.24 634.15 L269.34 636.81 L271.43 639.5 L273.53 642.32 L275.62 645.31 L277.72 648.44 L279.82 651.6 L281.91 654.7 L284.01 657.64 L286.1 660.39 L288.2 663.01 L290.29 665.58 L292.39 668.15 L294.49 670.78 L296.58 673.49 L298.68 676.22 L300.77 678.98 L302.87 681.76 L304.96 684.54 L307.06 687.33 L309.16 690.14 L311.25 692.95 L313.35 695.78 L315.44 698.62" fill="none" stroke="#0000ff" stroke-width="1.25" stroke-linejoin="round" stroke-linecap="butt"/>
<path d="M63.96 767.28 L66.05 766.57 L68.15 765.77 L70.24 764.88 L72.34 763.92 L74.44 762.9 L76.53 761.75 L78.63 760.45 L80.72 759.06 L82.82 757.67 L84.91 756.33 L87.01 755.06 L89.11 753.82 L91.2 752.58 L93.3 751.34 L95.39 750.07 L97.49 748.79 L99.58 747.49 L101.68 746.17 L103.78 744.84 L105.87 743.51 L107.97 742.17 L110.06 740.83 L112.16 739.47 L114.25 738.08 L116.35 736.62 L118.45 735.06 L120.54 733.4 L122.64 731.71 L124.73 730.05 L126.83 728.49 L128.92 727.12 L131.02 725.88 L133.12 724.64 L135.21 723.26 L137.31 721.61 L139.4 719.32 L141.5 716.63 L143.59 714.19 L145.69 711.98 L147.79 709.57 L149.88 706.77 L151.98 703.66 L154.07 700.23 L156.17 696.25 L158.26 691.68 L160.36 686.93 L162.46 682.43 L164.55 678.54 L166.65 675.1 L168.74 671.68 L170.84 667.85 L172.93 663.51 L175.03 658.88 L177.13 654.21 L179.22 649.51 L181.32 644.71 L183.41 639.81 L185.51 634.74 L187.6 629.35 L189.7 624.03 L191.8 619.19 L193.89 614.64 L195.99 610.31 L198.08 606.34 L200.18 602.9 L202.27 599.8 L204.37 596.85 L206.47 594.2 L208.56 592 L210.66 590.39 L212.75 589.14 L214.85 587.99 L216.94 587.02 L219.04 586.33 L221.14 586.02 L223.23 586.17 L225.33 586.73 L227.42 587.6 L229.52 588.65 L231.61 589.76 L233.71 591.08 L235.81 592.76 L237.9 594.72 L240 596.88 L242.09 599.15 L244.19 601.64 L246.28 604.46 L248.38 607.51 L250.48 610.68 L252.57 613.85 L254.67 617.12 L256.76 620.57 L258.86 624.07 L260.95 627.5 L263.05 630.74 L265.15 633.74 L267.24 636.58 L269.34 639.36 L271.43 642.18 L273.53 645.13 L275.62 648.34 L277.72 651.76 L279.82 655.19 L281.91 658.46 L284.01 661.4 L286.1 663.93 L288.2 666.2 L290.29 668.37 L292.39 670.58 L294.49 672.97 L296.58 675.6 L298.68 678.39 L300.77 681.26 L302.87 684.12 L304.96 686.89 L307.06 689.58 L309.16 692.24 L311.25 694.86 L313.35 697.46 L315.44 700.03" fill="none" stroke="#008080" stroke-width="1.25" stroke-linejoin="round" stroke-linecap="butt"/>
<path d="M63.96 769.31 L66.05 768.6 L68.15 767.8 L70.24 766.92 L72.34 765.96 L74.44 764.93 L76.53 763.78 L78.63 762.48 L80.72 761.09 L82.82 759.7 L84.91 758.36 L87.01 757.1 L89.11 755.85 L91.2 754.62 L93.3 753.37 L95.39 752.11 L97.49 750.82 L99.58 749.52 L101.68 748.2 L103.78 746.88 L105.87 745.54 L107.97 744.2 L110.06 742.86 L112.16 741.51 L114.25 740.11 L116.35 738.66 L118.45 737.1 L120.54 735.44 L122.64 733.75 L124.73 732.09 L126.83 730.52 L128.92 729.15 L131.02 727.91 L133.12 726.67 L135.21 725.29 L137.31 723.64 L139.4 721.42 L141.5 718.75 L143.59 716.02 L145.69 713.13 L147.79 710.19 L149.88 707.37 L151.98 704.56 L154.07 701.54 L156.17 698.01 L158.26 693.69 L160.36 688.98 L162.46 684.37 L164.55 680.36 L166.65 677.31 L168.74 674.89 L170.84 672.5 L172.93 669.55 L175.03 665.21 L177.13 659.54 L179.22 653.79 L181.32 649.09 L183.41 645.07 L185.51 641.15 L187.6 636.78 L189.7 631.54 L191.8 626 L193.89 620.91 L195.99 616.71 L198.08 612.96 L200.18 609.47 L202.27 605.93 L204.37 602.32 L206.47 598.95 L208.56 596.13 L210.66 594.14 L212.75 592.71 L214.85 591.41 L216.94 590.41 L219.04 589.84 L221.14 589.81 L223.23 590.14 L225.33 590.72 L227.42 591.43 L229.52 592.21 L231.61 593.36 L233.71 594.82 L235.81 596.55 L237.9 598.51 L240 600.64 L242.09 602.9 L244.19 605.43 L246.28 608.3 L248.38 611.38 L250.48 614.52 L252.57 617.6 L254.67 620.63 L256.76 623.69 L258.86 626.77 L260.95 629.86 L263.05 632.93 L265.15 636.02 L267.24 639.14 L269.34 642.25 L271.43 645.3 L273.53 648.26 L275.62 651.1 L277.72 653.86 L279.82 656.57 L281.91 659.27 L284.01 662.02 L286.1 664.79 L288.2 667.54 L290.29 670.33 L292.39 673.16 L294.49 676.1 L296.58 679.18 L298.68 682.41 L300.77 685.68 L302.87 688.93 L304.96 692.05 L307.06 695.1 L309.16 698.07 L311.25 700.81 L313.35 703.27 L315.44 705.5" fill="none" stroke="#ff00ff" stroke-width="1.25" stroke-linejoin="round" stroke-linecap="butt"/>
<path d="M63.96 766.18 L66.05 765.48 L68.15 764.67 L70.24 763.79 L72.34 762.83 L74.44 761.8 L76.53 760.65 L78.63 759.35 L80.72 757.97 L82.82 756.57 L84.91 755.24 L87.01 753.97 L89.11 752.73 L91.2 751.49 L93.3 750.25 L95.39 748.98 L97.49 747.69 L99.58 746.39 L101.68 745.08 L103.78 743.75 L105.87 742.41 L107.97 741.07 L110.06 739.74 L112.16 738.38 L114.25 736.98 L116.35 735.53 L118.45 733.97 L120.54 732.31 L122.64 730.62 L124.73 728.96 L126.83 727.4 L128.92 726.02 L131.02 724.78 L133.12 723.54 L135.21 722.17 L137.31 720.52 L139.4 718.27 L141.5 715.58 L143.59 713.02 L145.69 710.58 L147.79 707.69 L149.88 703.69 L151.98 699.02 L154.07 693.97 L156.17 688.59 L158.26 683.2 L160.36 678.12 L162.46 673.41 L164.55 668.16 L166.65 660.92 L168.74 652.36 L170.84 646.45 L172.93 642.41 L175.03 637.5 L177.13 628.32 L179.22 619.62 L181.32 614.03 L183.41 609.24 L185.51 605.13 L187.6 601.6 L189.7 598.52 L191.8 595.8 L193.89 593.38 L195.99 591.23 L198.08 589.3 L200.18 587.58 L202.27 585.95 L204.37 584.42 L206.47 583.04 L208.56 581.88 L210.66 581.01 L212.75 580.3 L214.85 579.65 L216.94 579.09 L219.04 578.69 L221.14 578.51 L223.23 578.63 L225.33 579.1 L227.42 579.82 L229.52 580.7 L231.61 581.63 L233.71 582.8 L235.81 584.35 L237.9 586.13 L240 587.99 L242.09 589.76 L244.19 591.45 L246.28 593.15 L248.38 594.89 L250.48 596.67 L252.57 598.52 L254.67 600.39 L256.76 602.27 L258.86 604.25 L260.95 606.41 L263.05 608.85 L265.15 611.84 L267.24 615.4 L269.34 619.22 L271.43 622.98 L273.53 626.36 L275.62 629.27 L277.72 631.92 L279.82 634.51 L281.91 637.18 L284.01 640.13 L286.1 643.53 L288.2 647.3 L290.29 651.19 L292.39 654.93 L294.49 658.27 L296.58 661.13 L298.68 663.73 L300.77 666.21 L302.87 668.72 L304.96 671.41 L307.06 674.29 L309.16 677.26 L311.25 680.33 L313.35 683.49 L315.44 686.73" fill="none" stroke="#808000" stroke-width="1.25" stroke-linejoin="round" stroke-linecap="butt"/>
<path d="M37.7 561.3 H336.4 V798.5" fill="none" stroke="#3a3a3a" stroke-width="1.2"/>
<path d="M43 561.3 V795.9 M40.2 795.9 H336.4" fill="none" stroke="#3a3a3a" stroke-width="1.3"/>
<path d="M37.7 780.26 H43 M40.2 764.62 H43 M37.7 748.98 H43 M40.2 733.34 H43 M37.7 717.7 H43 M40.2 702.06 H43 M37.7 686.42 H43 M40.2 670.78 H43 M37.7 655.14 H43 M40.2 639.5 H43 M37.7 623.86 H43 M40.2 608.22 H43 M37.7 592.58 H43 M40.2 576.94 H43 M37.7 561.3 H43 M43 795.9 V798.7 M63.96 795.9 V801.2 M84.91 795.9 V798.7 M105.87 795.9 V801.2 M126.83 795.9 V798.7 M147.79 795.9 V801.2 M168.74 795.9 V798.7 M189.7 795.9 V801.2 M210.66 795.9 V798.7 M231.61 795.9 V801.2 M252.57 795.9 V798.7 M273.53 795.9 V801.2 M294.49 795.9 V798.7 M315.44 795.9 V801.2 M336.4 795.9 V798.7" fill="none" stroke="#3a3a3a" stroke-width="1.2"/>
<text x="34.2" y="782.74" font-size="7.9" text-anchor="end">10</text>
<text x="34.2" y="751.46" font-size="7.9" text-anchor="end">20</text>
<text x="34.2" y="720.18" font-size="7.9" text-anchor="end">30</text>
<text x="34.2" y="688.9" font-size="7.9" text-anchor="end">40</text>
<text x="34.2" y="657.62" font-size="7.9" text-anchor="end">50</text>
<text x="34.2" y="626.34" font-size="7.9" text-anchor="end">60</text>
<text x="34.2" y="595.06" font-size="7.9" text-anchor="end">70</text>
<text x="34.2" y="563.78" font-size="7.9" text-anchor="end">80</text>
<text x="64.16" y="810.4" font-size="7.9" text-anchor="middle">-30</text>
<text x="106.07" y="810.4" font-size="7.9" text-anchor="middle">-20</text>
<text x="147.99" y="810.4" font-size="7.9" text-anchor="middle">-10</text>
<text x="189.7" y="810.4" font-size="7.9" text-anchor="middle">0</text>
<text x="231.61" y="810.4" font-size="7.9" text-anchor="middle">10</text>
<text x="273.53" y="810.4" font-size="7.9" text-anchor="middle">20</text>
<text x="315.44" y="810.4" font-size="7.9" text-anchor="middle">30</text>
<text x="80.3" y="570.9" font-size="8.92" textLength="221.8" lengthAdjust="spacingAndGlyphs">Cylinder pressure @ CR19 for 200 bar of SOME in UCE</text>
<text x="151" y="820.4" font-size="9.75" textLength="78" lengthAdjust="spacingAndGlyphs">Crank angle (deg)</text>
<text transform="translate(20.7 719.7) rotate(-90)" font-size="9.72" textLength="100.5" lengthAdjust="spacingAndGlyphs">Cylinder Pressure (bar)</text>
<text x="37.2" y="824.3" class="pl" font-size="12">(c)</text>
<rect x="45.5" y="590.1" width="50.4" height="59.2" fill="#fff" stroke="#8c8c8c" stroke-width="0.8"/>
<path d="M46.4 595.4 H64.5" stroke="#000000" stroke-width="1.3" fill="none"/>
<text x="66.9" y="598.15" font-size="7.67" textLength="13.65" lengthAdjust="spacingAndGlyphs">B20</text>
<path d="M46.4 605.2 H64.5" stroke="#ff0000" stroke-width="1.3" fill="none"/>
<text x="66.9" y="607.95" font-size="7.67" textLength="13.65" lengthAdjust="spacingAndGlyphs">B40</text>
<path d="M46.4 615 H64.5" stroke="#0000ff" stroke-width="1.3" fill="none"/>
<text x="66.9" y="617.75" font-size="7.67" textLength="13.65" lengthAdjust="spacingAndGlyphs">B60</text>
<path d="M46.4 624.7 H64.5" stroke="#008080" stroke-width="1.3" fill="none"/>
<text x="66.9" y="627.45" font-size="7.67" textLength="13.65" lengthAdjust="spacingAndGlyphs">B80</text>
<path d="M46.4 634.5 H64.5" stroke="#ff00ff" stroke-width="1.3" fill="none"/>
<text x="66.9" y="637.25" font-size="7.67" textLength="17.92" lengthAdjust="spacingAndGlyphs">B100</text>
<path d="M46.4 644.5 H64.5" stroke="#808000" stroke-width="1.3" fill="none"/>
<text x="66.9" y="647.25" font-size="7.67" textLength="27.3" lengthAdjust="spacingAndGlyphs">DIESEL</text>
</g>
<g id="pf">
<path d="M399.18 760.11 L401.35 759.85 L403.51 759.42 L405.68 758.87 L407.85 758.23 L410.02 757.52 L412.19 756.65 L414.35 755.52 L416.52 754.22 L418.69 752.85 L420.86 751.48 L423.02 750.04 L425.19 748.45 L427.36 746.85 L429.53 745.34 L431.7 744.06 L433.86 742.98 L436.03 742.02 L438.2 741.1 L440.37 740.16 L442.54 739.12 L444.7 737.96 L446.87 736.73 L449.04 735.44 L451.21 734.13 L453.38 732.81 L455.54 731.44 L457.71 730.03 L459.88 728.61 L462.05 727.22 L464.21 725.88 L466.38 724.7 L468.55 723.63 L470.72 722.56 L472.89 721.34 L475.05 719.84 L477.22 717.66 L479.39 714.96 L481.56 712.51 L483.73 710.6 L485.89 708.34 L488.06 704.67 L490.23 699.98 L492.4 695.23 L494.56 690.22 L496.73 685.23 L498.9 680.76 L501.07 676.56 L503.24 671.93 L505.4 665.96 L507.57 658.87 L509.74 652.17 L511.91 645.42 L514.08 638.89 L516.24 632.83 L518.41 627.52 L520.58 622.93 L522.75 618.78 L524.91 614.95 L527.08 611.29 L529.25 607.67 L531.42 603.79 L533.59 599.88 L535.75 596.55 L537.92 594.4 L540.09 592.91 L542.26 591.69 L544.42 590.79 L546.59 590.23 L548.76 589.85 L550.93 589.52 L553.1 589.28 L555.26 589.14 L557.43 589.15 L559.6 589.49 L561.77 589.98 L563.94 590.61 L566.1 591.48 L568.27 592.51 L570.44 593.66 L572.61 594.87 L574.77 596.24 L576.94 597.85 L579.11 599.57 L581.28 601.3 L583.45 602.92 L585.61 604.4 L587.78 605.79 L589.95 607.18 L592.12 608.64 L594.29 610.26 L596.45 612.05 L598.62 613.98 L600.79 616.05 L602.96 618.26 L605.12 620.61 L607.29 623.24 L609.46 626.18 L611.63 629.26 L613.8 632.3 L615.96 635.14 L618.13 637.7 L620.3 640.1 L622.47 642.46 L624.64 644.89 L626.8 647.51 L628.97 650.42 L631.14 653.58 L633.31 656.82 L635.47 659.98 L637.64 662.89 L639.81 665.52 L641.98 667.96 L644.15 670.34 L646.31 672.74 L648.48 675.26 L650.65 677.92 L652.82 680.65 L654.99 683.44 L657.15 686.29 L659.32 689.21" fill="none" stroke="#000000" stroke-width="1.25" stroke-linejoin="round" stroke-linecap="butt"/>
<path d="M399.18 761.26 L401.35 761 L403.51 760.57 L405.68 760.02 L407.85 759.38 L410.02 758.67 L412.19 757.8 L414.35 756.67 L416.52 755.38 L418.69 754 L420.86 752.63 L423.02 751.19 L425.19 749.6 L427.36 748 L429.53 746.49 L431.7 745.21 L433.86 744.13 L436.03 743.17 L438.2 742.25 L440.37 741.31 L442.54 740.27 L444.7 739.11 L446.87 737.88 L449.04 736.59 L451.21 735.28 L453.38 733.96 L455.54 732.59 L457.71 731.18 L459.88 729.76 L462.05 728.37 L464.21 727.03 L466.38 725.85 L468.55 724.78 L470.72 723.71 L472.89 722.49 L475.05 720.99 L477.22 718.81 L479.39 716.11 L481.56 713.66 L483.73 711.75 L485.89 709.49 L488.06 705.82 L490.23 701.13 L492.4 696.38 L494.56 691.36 L496.73 686.38 L498.9 681.9 L501.07 677.71 L503.24 673.29 L505.4 668.08 L507.57 661.74 L509.74 655.66 L511.91 649.58 L514.08 643.63 L516.24 637.95 L518.41 632.69 L520.58 627.82 L522.75 623.19 L524.91 618.8 L527.08 614.64 L529.25 610.69 L531.42 606.69 L533.59 602.75 L535.75 599.44 L537.92 597.27 L540.09 595.84 L542.26 594.8 L544.42 594.14 L546.59 593.57 L548.76 593.06 L550.93 592.65 L553.1 592.34 L555.26 592.17 L557.43 592.22 L559.6 592.95 L561.77 593.86 L563.94 594.64 L566.1 595.42 L568.27 596.26 L570.44 597.16 L572.61 598.18 L574.77 599.37 L576.94 600.73 L579.11 602.23 L581.28 603.79 L583.45 605.37 L585.61 606.97 L587.78 608.64 L589.95 610.38 L592.12 612.16 L594.29 614 L596.45 615.84 L598.62 617.71 L600.79 619.65 L602.96 621.75 L605.12 624.07 L607.29 626.78 L609.46 629.89 L611.63 633.2 L613.8 636.5 L615.96 639.6 L618.13 642.44 L620.3 645.17 L622.47 647.86 L624.64 650.58 L626.8 653.4 L628.97 656.39 L631.14 659.5 L633.31 662.63 L635.47 665.71 L637.64 668.65 L639.81 671.43 L641.98 674.12 L644.15 676.74 L646.31 679.32 L648.48 681.88 L650.65 684.42 L652.82 686.93 L654.99 689.4 L657.15 691.84 L659.32 694.25" fill="none" stroke="#ff0000" stroke-width="1.25" stroke-linejoin="round" stroke-linecap="butt"/>
<path d="M399.18 762.99 L401.35 762.72 L403.51 762.3 L405.68 761.75 L407.85 761.1 L410.02 760.4 L412.19 759.52 L414.35 758.39 L416.52 757.1 L418.69 755.73 L420.86 754.36 L423.02 752.91 L425.19 751.33 L427.36 749.72 L429.53 748.22 L431.7 746.93 L433.86 745.85 L436.03 744.89 L438.2 743.98 L440.37 743.03 L442.54 741.99 L444.7 740.83 L446.87 739.6 L449.04 738.32 L451.21 737.01 L453.38 735.69 L455.54 734.32 L457.71 732.91 L459.88 731.49 L462.05 730.09 L464.21 728.76 L466.38 727.58 L468.55 726.51 L470.72 725.43 L472.89 724.21 L475.05 722.72 L477.22 720.53 L479.39 717.83 L481.56 715.38 L483.73 713.47 L485.89 711.22 L488.06 707.55 L490.23 702.85 L492.4 698.1 L494.56 693.1 L496.73 688.11 L498.9 683.44 L501.07 678.93 L503.24 674.43 L505.4 669.8 L507.57 664.99 L509.74 660.09 L511.91 655.11 L514.08 650.07 L516.24 644.99 L518.41 639.88 L520.58 634.53 L522.75 628.91 L524.91 623.35 L527.08 618.18 L529.25 613.71 L531.42 609.75 L533.59 606.09 L535.75 603.02 L537.92 600.83 L540.09 599.18 L542.26 597.97 L544.42 597.34 L546.59 596.87 L548.76 596.56 L550.93 596.45 L553.1 596.47 L555.26 596.51 L557.43 596.56 L559.6 596.64 L561.77 596.74 L563.94 597.08 L566.1 597.8 L568.27 598.78 L570.44 599.9 L572.61 601.06 L574.77 602.33 L576.94 603.84 L579.11 605.52 L581.28 607.31 L583.45 609.11 L585.61 610.96 L587.78 612.91 L589.95 614.94 L592.12 617.04 L594.29 619.18 L596.45 621.35 L598.62 623.59 L600.79 625.89 L602.96 628.25 L605.12 630.68 L607.29 633.2 L609.46 635.81 L611.63 638.49 L613.8 641.2 L615.96 643.91 L618.13 646.63 L620.3 649.38 L622.47 652.16 L624.64 654.94 L626.8 657.72 L628.97 660.51 L631.14 663.33 L633.31 666.14 L635.47 668.93 L637.64 671.67 L639.81 674.33 L641.98 676.93 L644.15 679.51 L646.31 682.11 L648.48 684.75 L650.65 687.46 L652.82 690.19 L654.99 692.95 L657.15 695.74 L659.32 698.56" fill="none" stroke="#0000ff" stroke-width="1.25" stroke-linejoin="round" stroke-linecap="butt"/>
<path d="M399.18 760.69 L401.35 760.42 L403.51 760 L405.68 759.45 L407.85 758.8 L410.02 758.1 L412.19 757.22 L414.35 756.09 L416.52 754.8 L418.69 753.43 L420.86 752.06 L423.02 750.61 L425.19 749.03 L427.36 747.42 L429.53 745.92 L431.7 744.63 L433.86 743.55 L436.03 742.59 L438.2 741.67 L440.37 740.73 L442.54 739.69 L444.7 738.53 L446.87 737.3 L449.04 736.02 L451.21 734.71 L453.38 733.39 L455.54 732.02 L457.71 730.61 L459.88 729.19 L462.05 727.79 L464.21 726.46 L466.38 725.27 L468.55 724.21 L470.72 723.13 L472.89 721.91 L475.05 720.42 L477.22 718.23 L479.39 715.53 L481.56 713.08 L483.73 711.17 L485.89 708.91 L488.06 705.25 L490.23 700.55 L492.4 695.77 L494.56 690.62 L496.73 685.76 L498.9 681.77 L501.07 678.24 L503.24 674.86 L505.4 671.32 L507.57 667.4 L509.74 663.23 L511.91 658.9 L514.08 654.47 L516.24 650.03 L518.41 645.64 L520.58 641.16 L522.75 636.54 L524.91 631.97 L527.08 627.66 L529.25 623.78 L531.42 620.29 L533.59 617.01 L535.75 613.95 L537.92 611.12 L540.09 608.53 L542.26 606.05 L544.42 603.63 L546.59 601.41 L548.76 599.55 L550.93 598.18 L553.1 597.11 L555.26 596.32 L557.43 596.19 L559.6 596.4 L561.77 596.74 L563.94 597.29 L566.1 598.15 L568.27 599.24 L570.44 600.48 L572.61 601.77 L574.77 603.22 L576.94 604.91 L579.11 606.79 L581.28 608.79 L583.45 610.83 L585.61 613 L587.78 615.33 L589.95 617.76 L592.12 620.22 L594.29 622.63 L596.45 624.96 L598.62 627.26 L600.79 629.57 L602.96 631.94 L605.12 634.42 L607.29 637.05 L609.46 639.81 L611.63 642.64 L613.8 645.47 L615.96 648.23 L618.13 650.9 L620.3 653.53 L622.47 656.15 L624.64 658.78 L626.8 661.46 L628.97 664.18 L631.14 666.94 L633.31 669.71 L635.47 672.49 L637.64 675.26 L639.81 678.05 L641.98 680.86 L644.15 683.66 L646.31 686.4 L648.48 689.07 L650.65 691.65 L652.82 694.18 L654.99 696.66 L657.15 699.08 L659.32 701.44" fill="none" stroke="#008080" stroke-width="1.25" stroke-linejoin="round" stroke-linecap="butt"/>
<path d="M399.18 762.13 L401.35 761.86 L403.51 761.44 L405.68 760.89 L407.85 760.24 L410.02 759.54 L412.19 758.66 L414.35 757.53 L416.52 756.24 L418.69 754.87 L420.86 753.5 L423.02 752.05 L425.19 750.46 L427.36 748.86 L429.53 747.36 L431.7 746.07 L433.86 744.99 L436.03 744.03 L438.2 743.11 L440.37 742.17 L442.54 741.13 L444.7 739.97 L446.87 738.74 L449.04 737.46 L451.21 736.14 L453.38 734.82 L455.54 733.46 L457.71 732.04 L459.88 730.62 L462.05 729.23 L464.21 727.9 L466.38 726.71 L468.55 725.65 L470.72 724.57 L472.89 723.35 L475.05 721.86 L477.22 719.67 L479.39 716.97 L481.56 714.52 L483.73 712.61 L485.89 710.35 L488.06 706.69 L490.23 701.99 L492.4 697.22 L494.56 692.07 L496.73 687.2 L498.9 683.13 L501.07 679.46 L503.24 675.97 L505.4 672.43 L507.57 668.61 L509.74 664.46 L511.91 660.13 L514.08 655.81 L516.24 651.69 L518.41 647.94 L520.58 644.65 L522.75 641.65 L524.91 638.78 L527.08 635.85 L529.25 632.69 L531.42 629.13 L533.59 625.28 L535.75 621.37 L537.92 617.62 L540.09 614.29 L542.26 611.18 L544.42 608.11 L546.59 605.29 L548.76 602.91 L550.93 601.2 L553.1 600.02 L555.26 599.13 L557.43 598.55 L559.6 598.09 L561.77 597.89 L563.94 598.09 L566.1 598.58 L568.27 599.45 L570.44 601.09 L572.61 602.92 L574.77 604.67 L576.94 606.5 L579.11 608.44 L581.28 610.5 L583.45 612.7 L585.61 615.15 L587.78 617.86 L589.95 620.72 L592.12 623.59 L594.29 626.37 L596.45 629.04 L598.62 631.7 L600.79 634.35 L602.96 636.98 L605.12 639.6 L607.29 642.18 L609.46 644.72 L611.63 647.26 L613.8 649.85 L615.96 652.54 L618.13 655.38 L620.3 658.35 L622.47 661.36 L624.64 664.34 L626.8 667.21 L628.97 669.94 L631.14 672.6 L633.31 675.22 L635.47 677.82 L637.64 680.44 L639.81 683.12 L641.98 685.81 L644.15 688.43 L646.31 690.91 L648.48 693.31 L650.65 695.65 L652.82 697.93 L654.99 700.14 L657.15 702.27 L659.32 704.31" fill="none" stroke="#ff00ff" stroke-width="1.25" stroke-linejoin="round" stroke-linecap="butt"/>
<path d="M399.18 759.54 L401.35 759.27 L403.51 758.85 L405.68 758.3 L407.85 757.65 L410.02 756.95 L412.19 756.07 L414.35 754.94 L416.52 753.65 L418.69 752.28 L420.86 750.91 L423.02 749.46 L425.19 747.88 L427.36 746.27 L429.53 744.77 L431.7 743.48 L433.86 742.4 L436.03 741.44 L438.2 740.52 L440.37 739.58 L442.54 738.54 L444.7 737.38 L446.87 736.15 L449.04 734.87 L451.21 733.56 L453.38 732.23 L455.54 730.87 L457.71 729.46 L459.88 728.03 L462.05 726.64 L464.21 725.31 L466.38 724.12 L468.55 723.06 L470.72 721.98 L472.89 720.76 L475.05 719.27 L477.22 717.08 L479.39 714.38 L481.56 711.93 L483.73 710.02 L485.89 707.76 L488.06 704.1 L490.23 699.4 L492.4 694.66 L494.56 689.71 L496.73 684.68 L498.9 679.98 L501.07 675.34 L503.24 669.8 L505.4 661.47 L507.57 653.12 L509.74 647.8 L511.91 642.76 L514.08 635.95 L516.24 628.5 L518.41 622.34 L520.58 617.88 L522.75 614.07 L524.91 610.67 L527.08 607.46 L529.25 604.22 L531.42 600.77 L533.59 597.33 L535.75 594.3 L537.92 592.04 L540.09 590.27 L542.26 588.75 L544.42 587.52 L546.59 586.59 L548.76 585.8 L550.93 585.07 L553.1 584.49 L555.26 584.15 L557.43 584.13 L559.6 584.58 L561.77 585.24 L563.94 586.04 L566.1 587.09 L568.27 588.34 L570.44 589.71 L572.61 591.13 L574.77 592.67 L576.94 594.4 L579.11 596.26 L581.28 598.21 L583.45 600.19 L585.61 602.25 L587.78 604.42 L589.95 606.65 L592.12 608.9 L594.29 611.12 L596.45 613.26 L598.62 615.35 L600.79 617.47 L602.96 619.68 L605.12 622.05 L607.29 624.7 L609.46 627.58 L611.63 630.58 L613.8 633.57 L615.96 636.43 L618.13 639.11 L620.3 641.68 L622.47 644.24 L624.64 646.87 L626.8 649.66 L628.97 652.76 L631.14 656.12 L633.31 659.54 L635.47 662.82 L637.64 665.77 L639.81 668.35 L641.98 670.7 L644.15 672.94 L646.31 675.19 L648.48 677.56 L650.65 680.06 L652.82 682.6 L654.99 685.19 L657.15 687.82 L659.32 690.51" fill="none" stroke="#808000" stroke-width="1.25" stroke-linejoin="round" stroke-linecap="butt"/>
<path d="M374.7 560.5 H681 V793.2" fill="none" stroke="#3a3a3a" stroke-width="1.2"/>
<path d="M377.5 560.5 V790.6 M374.7 790.6 H681" fill="none" stroke="#3a3a3a" stroke-width="1.3"/>
<path d="M372.2 776.22 H377.5 M374.7 761.84 H377.5 M372.2 747.46 H377.5 M374.7 733.08 H377.5 M372.2 718.69 H377.5 M374.7 704.31 H377.5 M372.2 689.93 H377.5 M374.7 675.55 H377.5 M372.2 661.17 H377.5 M374.7 646.79 H377.5 M372.2 632.41 H377.5 M374.7 618.02 H377.5 M372.2 603.64 H377.5 M374.7 589.26 H377.5 M372.2 574.88 H377.5 M374.7 560.5 H377.5 M377.5 790.6 V793.4 M399.18 790.6 V795.9 M420.86 790.6 V793.4 M442.54 790.6 V795.9 M464.21 790.6 V793.4 M485.89 790.6 V795.9 M507.57 790.6 V793.4 M529.25 790.6 V795.9 M550.93 790.6 V793.4 M572.61 790.6 V795.9 M594.29 790.6 V793.4 M615.96 790.6 V795.9 M637.64 790.6 V793.4 M659.32 790.6 V795.9 M681 790.6 V793.4" fill="none" stroke="#3a3a3a" stroke-width="1.2"/>
<text x="368.3" y="778.8" font-size="8.2" text-anchor="end">10</text>
<text x="368.3" y="750.04" font-size="8.2" text-anchor="end">20</text>
<text x="368.3" y="721.28" font-size="8.2" text-anchor="end">30</text>
<text x="368.3" y="692.52" font-size="8.2" text-anchor="end">40</text>
<text x="368.3" y="663.75" font-size="8.2" text-anchor="end">50</text>
<text x="368.3" y="634.99" font-size="8.2" text-anchor="end">60</text>
<text x="368.3" y="606.23" font-size="8.2" text-anchor="end">70</text>
<text x="368.3" y="577.47" font-size="8.2" text-anchor="end">80</text>
<text x="399.38" y="805.3" font-size="8.2" text-anchor="middle">-30</text>
<text x="442.74" y="805.3" font-size="8.2" text-anchor="middle">-20</text>
<text x="486.09" y="805.3" font-size="8.2" text-anchor="middle">-10</text>
<text x="529.25" y="805.3" font-size="8.2" text-anchor="middle">0</text>
<text x="572.61" y="805.3" font-size="8.2" text-anchor="middle">10</text>
<text x="615.96" y="805.3" font-size="8.2" text-anchor="middle">20</text>
<text x="659.32" y="805.3" font-size="8.2" text-anchor="middle">30</text>
<text x="405.1" y="568.4" font-size="9.39" textLength="238.4" lengthAdjust="spacingAndGlyphs">Cylinder pressure @ CR19 for 200 bar of SOME in TBCE</text>
<text x="488" y="815.4" font-size="10.27" textLength="82.2" lengthAdjust="spacingAndGlyphs">Crank angle (deg)</text>
<text transform="translate(354.4 716.9) rotate(-90)" font-size="9.73" textLength="100.6" lengthAdjust="spacingAndGlyphs">Cylinder Pressure (bar)</text>
<text x="379.5" y="824" class="pl" font-size="12">(f)</text>
<rect x="380.2" y="589.1" width="53.6" height="58" fill="#fff" stroke="#8c8c8c" stroke-width="0.8"/>
<path d="M381 594.1 H400.4" stroke="#000000" stroke-width="1.3" fill="none"/>
<text x="402.9" y="597.01" font-size="8.12" textLength="14.46" lengthAdjust="spacingAndGlyphs">B20</text>
<path d="M381 604 H400.4" stroke="#ff0000" stroke-width="1.3" fill="none"/>
<text x="402.9" y="606.91" font-size="8.12" textLength="14.46" lengthAdjust="spacingAndGlyphs">B40</text>
<path d="M381 613.8 H400.4" stroke="#0000ff" stroke-width="1.3" fill="none"/>
<text x="402.9" y="616.71" font-size="8.12" textLength="14.46" lengthAdjust="spacingAndGlyphs">B60</text>
<path d="M381 623.6 H400.4" stroke="#008080" stroke-width="1.3" fill="none"/>
<text x="402.9" y="626.51" font-size="8.12" textLength="14.46" lengthAdjust="spacingAndGlyphs">B80</text>
<path d="M381 633.5 H400.4" stroke="#ff00ff" stroke-width="1.3" fill="none"/>
<text x="402.9" y="636.41" font-size="8.12" textLength="18.97" lengthAdjust="spacingAndGlyphs">B100</text>
<path d="M381 643.1 H400.4" stroke="#808000" stroke-width="1.3" fill="none"/>
<text x="402.9" y="646.01" font-size="8.12" textLength="28.9" lengthAdjust="spacingAndGlyphs">DIESEL</text>
</g>
</svg>
</body></html>
